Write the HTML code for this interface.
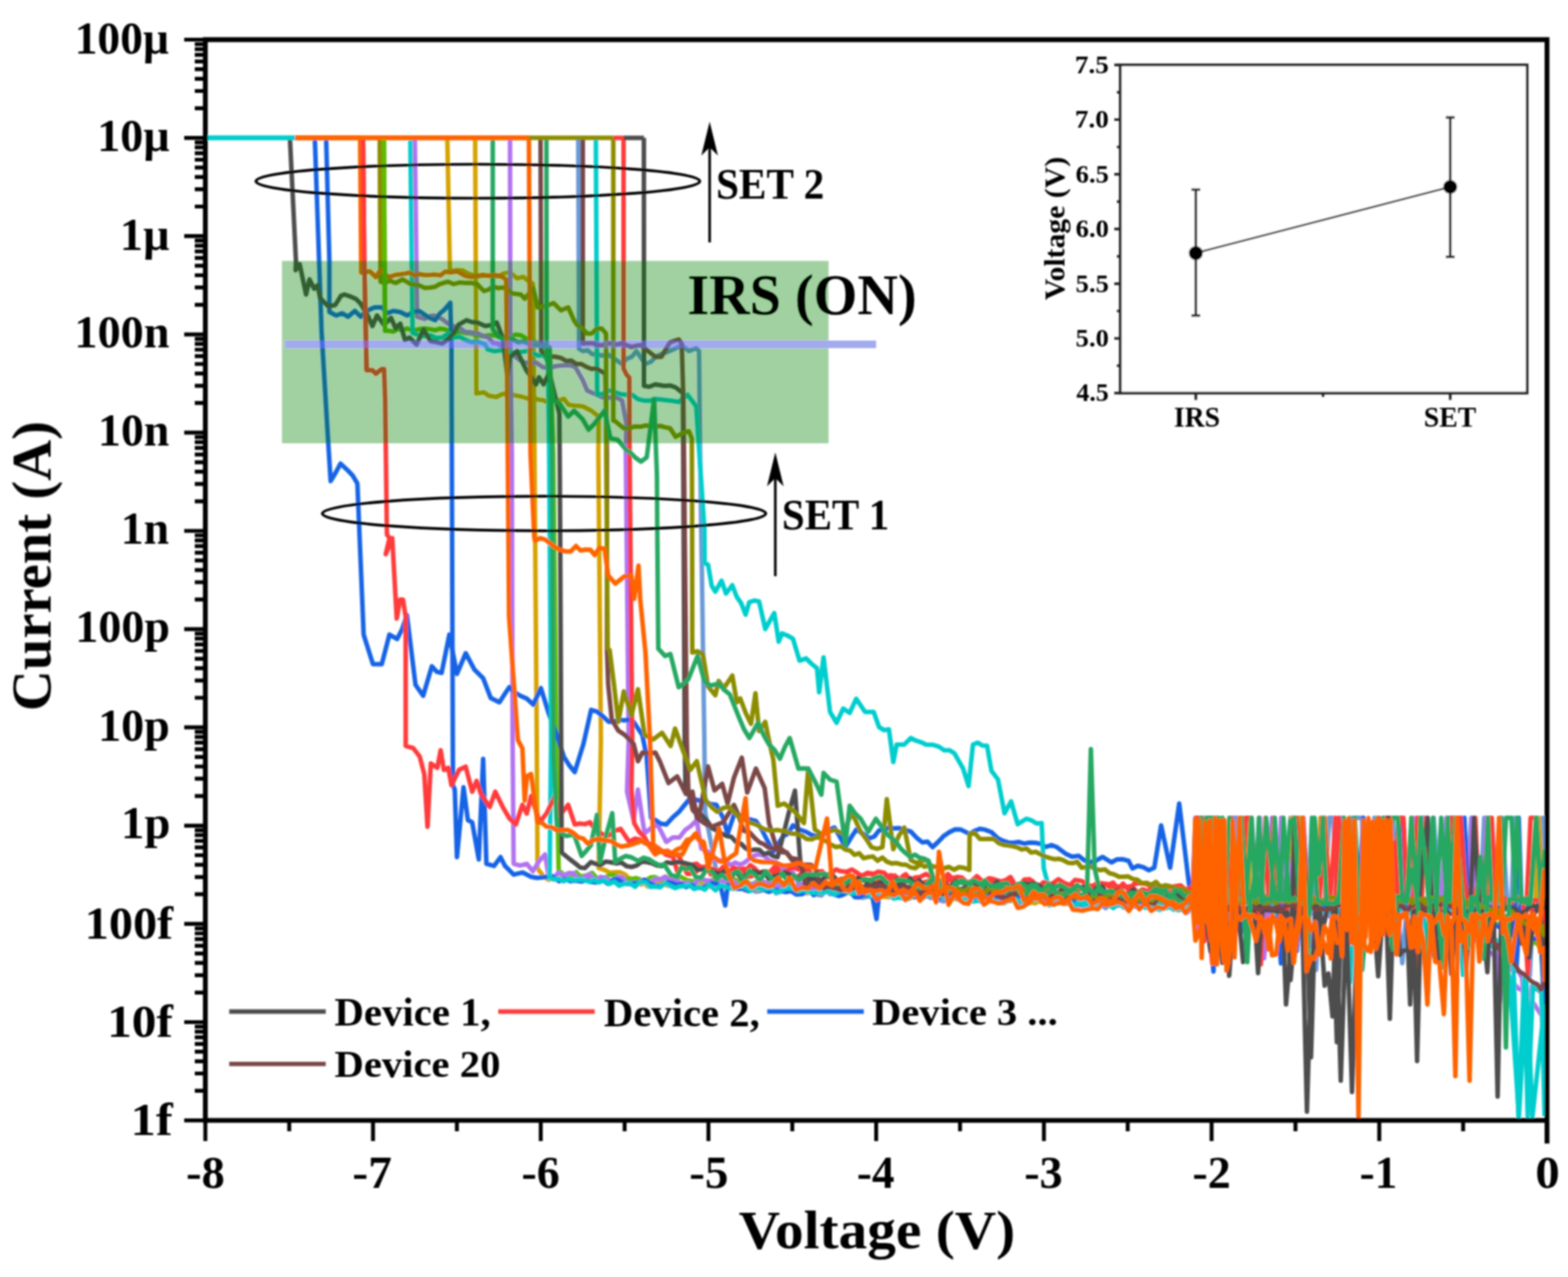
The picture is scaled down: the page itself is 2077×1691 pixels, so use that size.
<!DOCTYPE html><html><head><meta charset="utf-8"><style>
html,body{margin:0;padding:0;background:#fff;}
svg{display:block;}
text{font-family:"Liberation Serif","Times New Roman",serif;font-weight:bold;fill:#000;}
</style></head><body>
<svg width="2077" height="1691" viewBox="0 0 2077 1691">
<defs><filter id="sf" x="0" y="0" width="2077" height="1691" filterUnits="userSpaceOnUse"><feGaussianBlur stdDeviation="0.8"/></filter></defs>
<rect width="100%" height="100%" fill="#fff"/>
<g filter="url(#sf)">
<g fill="none" stroke-width="6.0" stroke-linejoin="round" stroke-linecap="butt">
<path d="M766.0 182.6 L767.0 462.0 L772.0 465.0 L778.3 463.9 L784.7 469.3 L791.0 468.7 L797.5 471.1 L804.0 468.9 L810.5 472.6 L817.2 477.5 L824.0 482.0 L830.3 475.0 L836.7 472.6 L843.0 465.0 L854.8 482.0 L861.9 479.3 L868.9 472.1 L876.0 468.7 L883.7 466.3 L891.4 463.0 L903.0 457.0 L912.6 465.0 L922.2 461.0 L926.0 465.0 L927.4 600.0 L933.0 980.0 L934.0 1075.0 L950.0 1160.0 L957.6 1172.7 L965.8 1177.0 L972.4 1173.2 L979.7 1173.1 L987.9 1172.4 L994.9 1177.8 L1001.2 1180.8 L1007.9 1179.7 L1015.1 1175.9 L1021.7 1173.5 L1027.8 1183.0 L1034.2 1181.0 L1040.1 1180.0 L1046.6 1179.6 L1053.0 1174.7 L1059.5 1176.9 L1065.4 1183.0 L1071.7 1179.6 L1079.9 1184.4 L1088.1 1185.8 L1094.0 1179.0 L1099.6 1184.1 L1107.0 1180.5 L1113.8 1184.5 L1121.4 1179.9 L1129.4 1181.5 L1136.8 1179.8 L1142.7 1188.9 L1150.4 1186.8 L1156.0 1179.0 L1162.0 1181.2 L1168.4 1183.6 L1174.0 1183.1 L1181.4 1181.8 L1189.4 1186.9 L1197.1 1183.4 L1203.9 1188.9 L1210.4 1181.0 L1218.4 1190.6 L1224.8 1182.1 L1232.9 1189.3 L1238.5 1185.2 L1244.3 1192.0 L1250.5 1193.7 L1258.2 1184.2 L1265.8 1188.2 L1273.5 1193.8 L1279.9 1185.2 L1288.2 1189.6 L1296.5 1193.1 L1304.2 1195.1 L1311.6 1191.0 L1317.3 1194.2 L1324.1 1192.2 L1332.3 1188.0 L1340.1 1187.3 L1347.7 1196.8 L1354.0 1194.0 L1362.4 1195.5 L1369.6 1191.1 L1375.2 1192.7 L1382.0 1191.1 L1388.4 1190.6 L1396.0 1197.4 L1402.2 1192.5 L1409.3 1195.3 L1417.6 1194.5 L1424.0 1201.2 L1429.9 1197.6 L1436.4 1200.9 L1443.6 1200.6 L1449.6 1199.7 L1456.9 1197.6 L1464.7 1202.4 L1470.5 1196.1 L1477.1 1195.4 L1482.8 1196.6 L1488.9 1201.9 L1495.7 1195.2 L1502.2 1199.7 L1508.8 1196.4 L1514.5 1194.8 L1523.0 1204.0 L1528.7 1203.9 L1537.1 1202.4 L1543.0 1201.8 L1549.8 1198.5 L1556.9 1196.7 L1565.2 1204.7 L1572.5 1208.5 L1580.0 1200.6 L1586.8 1198.8 L1594.6 1083.0 L1599.1 1198.5 L1605.8 1204.7 L1611.6 1206.9 L1616.2 1206.6 L1623.1 1249.8 L1630.7 1083.0 L1638.0 1083.0 L1643.3 1200.7 L1650.7 1200.2 L1658.1 1083.0 L1664.7 1205.2 L1672.5 1199.7 L1679.3 1197.9 L1685.3 1083.0 L1691.2 1206.7 L1695.9 1207.0 L1702.9 1199.4 L1709.3 1083.0 L1715.9 1083.0 L1721.5 1205.3 L1726.6 1083.0 L1732.4 1199.5 L1737.9 1083.0 L1743.3 1284.3 L1747.6 1204.1 L1754.7 1202.8 L1760.4 1083.0 L1765.7 1083.0 L1773.2 1203.4 L1777.4 1083.0 L1784.1 1274.5 L1791.6 1083.0 L1798.5 1083.0 L1804.1 1083.0 L1808.6 1205.5 L1814.7 1199.1 L1820.5 1083.0 L1827.7 1132.6 L1834.4 1153.6 L1838.9 1083.0 L1845.0 1083.0 L1851.0 1199.5 L1857.5 1275.6 L1863.2 1205.5 L1870.4 1083.0 L1875.1 1108.1 L1882.5 1083.0 L1887.6 1083.0 L1894.0 1199.4 L1899.1 1083.0 L1906.9 1201.8 L1912.3 1203.9 L1917.0 1083.0 L1924.2 1199.3 L1929.2 1083.0 L1936.1 1083.0 L1941.2 1202.5 L1948.8 1083.0 L1955.0 1200.6 L1960.0 1206.5 L1966.1 1083.0 L1971.9 1200.6 L1977.7 1199.4 L1982.3 1206.7 L1989.6 1083.0 L1996.8 1200.6 L2001.7 1203.9 L2006.7 1083.0 L2013.9 1202.2 L2020.3 1198.6 L2026.3 1292.2 L2031.1 1198.4 L2037.5 1197.8 L2043.5 1083.0 L2046.0 1290.0" stroke="#6a9ad8"/>
<path d="M592.5 182.6 L596.0 359.3 L605.7 357.7 L612.9 358.0 L620.0 362.0 L626.7 364.6 L633.3 365.9 L640.0 365.0 L646.7 364.8 L653.3 364.5 L660.0 366.0 L667.8 361.9 L675.6 360.8 L685.0 368.5 L693.0 366.6 L700.0 372.0 L706.0 376.0 L708.0 600.0 L711.0 980.0 L712.0 1150.0 L720.2 1160.9 L726.8 1165.0 L733.0 1161.1 L740.1 1164.4 L747.9 1163.6 L754.4 1160.7 L760.4 1166.1 L767.9 1165.5 L773.9 1162.7 L781.7 1164.5 L787.6 1163.6 L795.8 1161.7 L801.8 1162.6 L809.4 1168.4 L815.4 1161.8 L821.6 1163.7 L828.7 1162.4 L835.2 1163.0 L843.6 1168.8 L849.4 1171.3 L855.2 1165.8 L863.7 1170.3 L871.4 1167.1 L877.5 1169.4 L883.3 1165.3 L890.0 1163.9 L896.7 1171.8 L904.2 1169.2 L911.6 1169.2 L917.6 1170.8 L924.3 1172.5 L932.5 1169.8 L939.7 1173.3 L946.5 1168.4 L954.1 1175.2 L962.0 1173.8 L970.0 1173.9 L977.5 1172.0 L983.9 1174.1 L989.7 1172.2 L997.5 1175.5 L1004.9 1171.2 L1011.7 1173.6 L1019.1 1173.5 L1026.6 1179.0 L1032.6 1176.5 L1040.5 1174.2 L1047.4 1180.4 L1053.1 1176.3 L1059.0 1179.0 L1067.4 1176.7 L1073.2 1177.5 L1080.3 1179.3 L1087.3 1178.8 L1095.3 1178.0 L1102.0 1182.6 L1108.2 1180.2 L1114.8 1181.3 L1120.7 1183.8 L1127.3 1174.8 L1133.6 1178.5 L1139.1 1178.9 L1145.9 1182.0 L1152.5 1178.0 L1158.6 1183.1 L1167.0 1181.3 L1173.1 1184.3 L1179.8 1178.7 L1185.7 1184.6 L1193.6 1183.6 L1200.5 1183.1 L1206.7 1187.4 L1213.2 1184.5 L1221.2 1186.6 L1228.1 1181.7 L1235.3 1180.3 L1243.3 1183.0 L1251.3 1182.5 L1257.9 1182.6 L1264.7 1182.3 L1270.2 1187.9 L1276.6 1183.4 L1283.0 1186.0 L1289.8 1187.9 L1297.2 1185.5 L1305.5 1190.8 L1311.2 1190.8 L1319.4 1190.7 L1325.3 1191.5 L1332.7 1183.6 L1338.3 1193.2 L1345.7 1186.6 L1351.5 1185.7 L1357.7 1192.4 L1364.3 1186.4 L1372.5 1193.2 L1378.5 1194.4 L1385.8 1193.7 L1393.3 1195.1 L1401.2 1194.9 L1407.3 1193.8 L1414.4 1194.6 L1421.2 1196.3 L1428.3 1190.4 L1434.6 1189.4 L1441.5 1189.0 L1448.4 1190.1 L1455.4 1194.0 L1462.5 1197.9 L1468.0 1198.0 L1474.9 1195.5 L1482.4 1198.6 L1489.1 1194.7 L1497.5 1191.6 L1504.9 1197.6 L1510.4 1197.6 L1518.0 1201.1 L1524.5 1201.9 L1531.5 1197.3 L1539.7 1193.1 L1547.4 1199.4 L1553.9 1202.0 L1560.5 1198.5 L1567.6 1201.7 L1573.7 1198.7 L1580.0 1200.1 L1586.6 1200.2 L1592.7 1205.0 L1597.9 1197.6 L1603.1 1197.7 L1607.6 1198.1 L1613.9 1195.7 L1618.8 1198.9 L1625.7 1199.1 L1630.2 1202.6 L1635.8 1198.0 L1643.3 1202.9 L1651.0 1083.0 L1657.8 1198.9 L1662.5 1196.0 L1669.2 1199.5 L1675.2 1199.8 L1681.2 1204.0 L1688.5 1197.4 L1692.8 1196.1 L1699.5 1083.0 L1704.7 1202.4 L1710.6 1083.0 L1715.0 1083.0 L1721.9 1083.0 L1727.9 1195.2 L1733.7 1195.9 L1738.5 1199.7 L1743.1 1203.8 L1749.8 1201.5 L1756.2 1198.8 L1762.8 1204.3 L1769.0 1204.6 L1774.0 1195.6 L1781.0 1197.1 L1785.9 1202.5 L1790.6 1200.1 L1795.7 1202.3 L1803.4 1201.8 L1808.6 1199.3 L1814.5 1203.5 L1819.3 1204.3 L1825.3 1197.6 L1831.2 1198.2 L1836.7 1203.4 L1844.4 1201.7 L1850.5 1195.4 L1856.0 1198.7 L1862.4 1198.0 L1867.5 1198.9 L1875.2 1201.6 L1881.4 1200.1 L1888.8 1195.5 L1895.4 1197.5 L1902.3 1197.8 L1907.0 1200.9 L1912.8 1199.5 L1919.0 1198.5 L1926.0 1197.6 L1931.5 1197.2 L1937.3 1200.8 L1944.3 1196.9 L1948.8 1200.2 L1954.7 1199.5 L1960.8 1197.3 L1966.1 1202.9 L1971.8 1200.3 L1976.6 1201.1 L1981.1 1199.4 L1985.5 1204.6 L1992.4 1204.4 L1997.6 1202.4 L2003.2 1199.2 L2007.5 1199.3 L2011.7 1204.9 L2019.3 1197.5 L2024.1 1204.3 L2028.4 1201.7 L2036.1 1195.6 L2040.4 1201.9 L2045.7 1197.8 L2046.0 1420.0" stroke="#d7a200"/>
<path d="M629.4 182.6 L631.0 521.0 L641.0 519.5 L647.3 524.0 L658.0 525.7 L664.2 522.2 L670.5 521.0 L677.0 522.1 L683.5 523.9 L690.0 525.0 L700.0 528.0 L706.7 526.7 L713.3 529.3 L720.0 530.0 L724.0 532.0 L733.0 528.0 L740.0 530.3 L747.0 528.0 L753.0 536.0 L759.3 537.0 L765.7 537.4 L772.0 538.0 L783.5 544.0 L793.0 551.6 L792.6 600.0 L796.0 980.0 L793.0 1149.5 L801.8 1152.4 L808.3 1155.8 L814.8 1154.9 L821.2 1155.0 L827.7 1158.0 L836.0 1166.0 L844.0 1167.5 L851.0 1166.5 L858.0 1173.9 L865.5 1172.4 L872.0 1167.9 L878.3 1170.9 L885.8 1173.2 L891.4 1172.8 L899.5 1171.4 L905.2 1169.2 L910.7 1168.4 L919.0 1172.9 L926.4 1175.1 L934.7 1173.7 L942.0 1174.2 L949.6 1174.2 L957.1 1170.7 L964.6 1173.5 L972.4 1170.3 L978.5 1169.9 L986.3 1179.0 L993.8 1173.9 L1001.7 1178.4 L1008.9 1173.5 L1015.3 1175.4 L1021.8 1175.8 L1029.2 1181.2 L1034.9 1177.7 L1040.5 1173.5 L1048.4 1178.4 L1056.7 1177.5 L1062.2 1177.2 L1069.5 1183.0 L1077.9 1178.8 L1084.7 1175.3 L1092.1 1176.8 L1098.1 1175.1 L1103.6 1182.0 L1109.4 1185.1 L1115.2 1184.4 L1121.1 1176.1 L1128.8 1178.7 L1136.5 1178.5 L1142.1 1184.6 L1149.7 1185.8 L1157.4 1178.4 L1164.8 1185.0 L1171.7 1187.6 L1178.0 1188.2 L1185.6 1179.0 L1191.2 1185.6 L1199.1 1180.3 L1205.5 1187.0 L1211.5 1188.6 L1218.5 1180.9 L1225.1 1186.4 L1231.9 1187.7 L1237.9 1189.2 L1244.4 1187.9 L1251.8 1186.0 L1258.5 1190.0 L1266.8 1190.4 L1274.0 1185.8 L1279.7 1192.8 L1287.3 1191.7 L1293.8 1189.8 L1302.2 1192.4 L1309.6 1187.5 L1316.3 1193.6 L1323.0 1191.9 L1330.3 1194.3 L1338.2 1188.6 L1343.7 1188.6 L1350.5 1192.1 L1358.4 1195.5 L1364.0 1195.2 L1372.0 1195.9 L1379.2 1190.3 L1387.2 1196.0 L1394.8 1197.4 L1401.3 1189.4 L1408.5 1196.9 L1414.6 1196.7 L1422.9 1191.9 L1430.2 1196.6 L1437.1 1192.2 L1443.4 1198.0 L1451.3 1195.4 L1457.0 1199.1 L1464.8 1193.7 L1472.1 1200.7 L1480.2 1197.3 L1487.2 1198.3 L1493.2 1194.6 L1499.3 1200.0 L1505.9 1198.9 L1512.6 1198.7 L1518.5 1194.3 L1527.0 1198.0 L1532.8 1200.8 L1540.7 1196.4 L1548.0 1198.6 L1555.0 1195.7 L1560.6 1205.6 L1568.7 1201.0 L1575.9 1199.0 L1580.0 1200.9 L1587.5 1202.7 L1594.9 1201.4 L1602.4 1200.7 L1607.2 1204.9 L1611.8 1204.5 L1617.6 1198.2 L1625.0 1199.3 L1631.5 1199.9 L1636.0 1195.4 L1640.5 1201.9 L1645.8 1196.6 L1650.4 1083.0 L1657.7 1197.4 L1661.9 1198.0 L1666.6 1201.0 L1672.4 1201.4 L1678.6 1196.6 L1686.2 1201.9 L1694.0 1198.4 L1698.6 1200.2 L1704.3 1203.4 L1709.0 1195.0 L1715.5 1202.3 L1723.1 1202.6 L1727.5 1196.2 L1733.4 1195.7 L1740.3 1197.6 L1744.8 1198.0 L1749.1 1083.0 L1755.2 1083.0 L1761.8 1196.4 L1767.1 1197.8 L1772.7 1197.0 L1777.7 1200.6 L1785.1 1199.5 L1789.3 1201.3 L1794.9 1204.1 L1800.2 1198.0 L1806.8 1197.8 L1814.2 1204.7 L1819.8 1199.6 L1824.4 1197.1 L1831.9 1200.3 L1839.4 1204.7 L1846.2 1197.9 L1853.4 1204.8 L1857.8 1201.2 L1863.4 1200.8 L1868.9 1195.5 L1875.5 1198.8 L1882.8 1197.5 L1889.9 1195.9 L1897.2 1202.7 L1902.5 1198.4 L1907.4 1196.3 L1911.9 1195.2 L1916.6 1196.4 L1923.6 1083.0 L1929.0 1197.3 L1935.1 1198.9 L1940.7 1202.0 L1946.0 1202.1 L1951.2 1195.8 L1957.2 1196.3 L1963.8 1199.8 L1969.2 1204.9 L1975.7 1201.4 L1982.4 1200.4 L1989.3 1201.5 L1995.4 1197.1 L2001.5 1199.7 L2006.3 1196.3 L2013.7 1204.1 L2021.1 1197.7 L2028.8 1195.9 L2034.0 1198.0 L2038.5 1083.0 L2044.4 1200.1 L2046.0 1250.0" stroke="#d7a200"/>
<path d="M508.5 182.6 L510.0 438.0 L514.8 438.0 L521.0 439.1 L527.1 435.7 L533.3 437.2 L539.5 435.0 L547.2 437.8 L555.0 436.0 L562.5 435.1 L570.0 436.0 L576.3 437.3 L582.7 435.2 L589.0 436.0 L601.0 441.0 L608.8 439.3 L616.5 441.0 L624.2 441.7 L632.0 444.0 L639.5 445.3 L647.0 444.0 L655.0 443.7 L663.0 447.0 L669.8 447.0 L676.5 444.8 L683.2 443.1 L690.0 444.0 L700.0 450.0 L707.5 452.2 L715.0 455.0 L721.5 456.9 L728.0 460.0 L733.0 600.0 L737.0 980.0 L740.0 1153.0 L746.7 1157.7 L755.1 1161.3 L763.2 1155.0 L768.8 1160.8 L777.0 1159.2 L784.2 1155.8 L790.9 1163.5 L798.9 1163.3 L807.3 1158.8 L813.1 1158.3 L820.2 1162.9 L828.5 1163.6 L836.0 1164.2 L842.8 1162.8 L848.4 1164.9 L854.6 1166.3 L862.1 1161.7 L868.0 1161.6 L875.4 1165.5 L881.2 1160.7 L888.3 1165.1 L894.9 1162.6 L902.2 1161.2 L908.7 1165.1 L917.0 1166.9 L925.2 1165.9 L931.4 1164.4 L939.8 1168.4 L946.2 1163.3 L953.2 1168.8 L959.9 1165.8 L967.4 1171.4 L973.6 1164.6 L980.1 1168.0 L987.7 1166.5 L995.6 1171.2 L1002.6 1167.3 L1011.0 1168.5 L1019.0 1168.2 L1025.1 1172.7 L1031.5 1174.5 L1038.5 1168.7 L1044.7 1170.8 L1052.2 1175.4 L1058.1 1171.3 L1064.2 1176.2 L1070.2 1169.1 L1075.9 1172.1 L1084.0 1176.4 L1091.7 1177.6 L1100.0 1172.6 L1106.1 1177.8 L1113.8 1170.9 L1121.3 1174.0 L1127.9 1173.9 L1134.0 1171.6 L1140.3 1174.6 L1148.7 1173.2 L1157.1 1174.2 L1163.6 1179.4 L1171.6 1176.7 L1177.2 1177.3 L1183.9 1181.1 L1189.9 1177.0 L1198.1 1174.7 L1204.9 1181.2 L1212.7 1175.4 L1218.3 1175.8 L1226.5 1177.7 L1234.3 1183.2 L1240.8 1178.5 L1249.2 1181.6 L1255.4 1182.7 L1261.9 1179.5 L1267.4 1183.6 L1275.7 1183.0 L1284.0 1178.5 L1290.2 1182.4 L1298.6 1186.6 L1305.2 1181.2 L1312.0 1183.5 L1320.3 1181.4 L1328.2 1186.2 L1336.2 1186.8 L1343.5 1183.6 L1349.9 1184.1 L1357.8 1182.2 L1363.9 1187.9 L1370.1 1182.7 L1375.7 1186.8 L1382.2 1190.5 L1390.4 1191.0 L1396.6 1184.0 L1402.4 1187.6 L1410.1 1187.5 L1416.3 1187.6 L1423.6 1190.0 L1431.4 1191.7 L1438.9 1186.2 L1446.9 1188.0 L1454.1 1188.9 L1461.8 1187.9 L1468.0 1188.5 L1474.0 1193.9 L1481.2 1189.8 L1487.9 1195.4 L1495.0 1189.6 L1502.9 1193.4 L1511.4 1189.3 L1518.3 1195.4 L1526.3 1196.5 L1531.9 1191.8 L1537.8 1191.2 L1546.2 1194.7 L1554.5 1193.4 L1562.6 1194.4 L1568.9 1197.3 L1577.2 1192.3 L1580.0 1196.6 L1585.5 1197.2 L1591.3 1199.6 L1596.4 1193.1 L1601.7 1194.4 L1608.6 1200.9 L1616.2 1201.9 L1623.4 1193.3 L1629.2 1196.0 L1634.2 1195.6 L1641.2 1197.2 L1647.8 1195.9 L1652.1 1201.3 L1659.2 1195.3 L1663.9 1197.6 L1668.4 1200.3 L1672.6 1197.9 L1680.1 1201.0 L1685.9 1198.0 L1690.2 1195.3 L1695.9 1198.4 L1702.5 1196.2 L1708.5 1200.8 L1715.1 1195.3 L1719.6 1194.2 L1723.9 1202.2 L1728.5 1202.4 L1735.4 1199.4 L1740.5 1193.1 L1746.6 1194.0 L1751.4 1193.4 L1757.2 1197.6 L1761.6 1195.0 L1768.2 1198.0 L1772.8 1197.2 L1777.3 1197.3 L1784.6 1201.8 L1791.9 1195.2 L1796.8 1201.3 L1804.1 1197.3 L1808.4 1195.9 L1813.0 1202.9 L1818.3 1198.3 L1824.2 1198.0 L1830.2 1199.3 L1836.8 1196.1 L1842.6 1200.3 L1847.0 1194.7 L1853.8 1196.9 L1858.8 1200.2 L1865.3 1197.0 L1871.7 1202.0 L1876.0 1194.5 L1883.6 1195.2 L1889.6 1201.5 L1896.2 1200.4 L1903.7 1199.2 L1910.8 1195.2 L1917.1 1200.1 L1924.0 1194.1 L1928.3 1200.3 L1936.1 1205.6 L1940.8 1204.5 L1947.7 1211.4 L1952.8 1208.7 L1957.6 1207.6 L1961.9 1215.8 L1969.0 1216.7 L1975.9 1224.6 L1981.5 1222.6 L1986.4 1225.0 L1990.7 1224.1 L1998.3 1235.0 L2004.7 1237.7 L2010.8 1243.4 L2016.3 1240.3 L2024.0 1240.5 L2028.3 1250.6 L2034.1 1246.5 L2041.8 1257.7 L2046.0 1350.0" stroke="#5fbb00"/>
<path d="M549.5 182.6 L552.5 419.4 L562.6 422.4 L568.8 418.8 L575.0 417.8 L585.7 422.4 L593.4 428.6 L601.7 432.2 L610.0 435.0 L616.0 439.4 L622.0 439.8 L628.0 440.9 L634.0 442.0 L640.0 445.0 L646.7 446.5 L653.3 454.2 L660.0 455.0 L667.5 463.3 L675.0 469.0 L681.7 471.4 L688.3 476.8 L695.0 480.0 L702.5 481.0 L710.0 480.0 L718.8 486.0 L727.6 488.0 L735.3 484.9 L743.0 484.0 L749.3 483.7 L755.7 483.8 L762.0 486.0 L772.0 503.4 L777.7 517.0 L784.4 520.3 L791.0 522.7 L797.5 526.1 L804.0 526.4 L810.5 526.5 L817.2 526.6 L824.0 530.4 L829.7 561.0 L829.0 600.0 L832.8 980.0 L830.6 1048.4 L839.3 1086.0 L845.0 1045.5 L853.8 1103.3 L862.4 1096.7 L871.0 1091.8 L882.6 1114.9 L891.3 1109.0 L900.0 1109.0 L907.7 1099.0 L915.3 1093.6 L923.0 1086.0 L928.9 1123.5 L935.9 1126.6 L943.0 1132.9 L950.0 1140.0 L956.0 1139.2 L962.0 1141.5 L968.0 1145.5 L974.0 1142.1 L980.0 1145.0 L986.1 1142.4 L992.2 1137.5 L998.4 1133.3 L1004.5 1131.4 L1012.3 1133.4 L1020.2 1140.2 L1028.0 1141.6 L1035.3 1148.5 L1042.7 1152.2 L1050.0 1155.0 L1057.9 1169.6 L1064.4 1171.6 L1070.0 1180.1 L1077.9 1178.0 L1083.4 1180.1 L1091.1 1175.1 L1098.8 1175.3 L1105.0 1170.7 L1111.2 1170.0 L1117.7 1180.3 L1125.3 1182.0 L1132.9 1174.2 L1140.1 1176.9 L1148.0 1178.5 L1154.3 1180.4 L1162.7 1174.9 L1170.8 1172.4 L1177.1 1175.8 L1184.8 1186.0 L1192.6 1177.7 L1200.7 1178.1 L1206.9 1186.5 L1214.3 1183.8 L1221.8 1188.2 L1228.7 1186.5 L1236.3 1187.1 L1243.1 1185.6 L1250.3 1180.1 L1256.5 1184.8 L1262.2 1189.0 L1268.1 1176.9 L1273.9 1189.8 L1280.5 1179.1 L1286.1 1178.0 L1293.6 1186.6 L1301.2 1188.4 L1306.9 1186.6 L1313.5 1190.1 L1321.5 1191.4 L1327.2 1191.4 L1335.4 1192.8 L1341.2 1182.7 L1347.1 1180.6 L1355.1 1191.8 L1362.5 1192.4 L1369.9 1185.2 L1375.7 1182.8 L1383.5 1184.6 L1390.0 1188.0 L1395.5 1185.9 L1401.9 1192.6 L1408.5 1187.4 L1416.9 1190.3 L1424.9 1192.3 L1430.5 1189.7 L1437.3 1195.0 L1443.9 1194.3 L1451.0 1187.8 L1459.1 1186.4 L1467.0 1187.9 L1472.5 1188.6 L1480.3 1199.8 L1485.8 1193.2 L1492.8 1197.8 L1498.8 1193.9 L1505.4 1198.9 L1511.7 1200.7 L1518.0 1190.8 L1525.6 1195.1 L1531.4 1197.3 L1537.2 1199.7 L1544.8 1200.0 L1552.2 1194.3 L1558.9 1195.2 L1567.0 1191.2 L1575.2 1190.7 L1580.0 1194.3 L1584.9 1206.3 L1589.8 1207.9 L1595.7 1205.6 L1600.8 1206.2 L1607.4 1211.7 L1615.0 1205.4 L1621.9 1205.0 L1628.5 1211.4 L1633.5 1203.1 L1641.2 1210.3 L1647.3 1208.3 L1654.5 1206.0 L1659.1 1212.2 L1663.9 1209.3 L1668.6 1083.0 L1674.4 1269.0 L1679.0 1208.9 L1685.1 1083.0 L1692.3 1203.9 L1697.0 1083.0 L1703.5 1205.0 L1711.0 1210.9 L1718.1 1208.3 L1725.9 1083.0 L1733.3 1211.2 L1738.1 1253.3 L1743.8 1204.4 L1749.2 1206.0 L1753.8 1208.4 L1758.1 1204.5 L1762.9 1209.5 L1768.6 1208.6 L1774.5 1083.0 L1781.4 1207.0 L1787.8 1207.2 L1795.2 1204.5 L1800.0 1212.6 L1806.8 1203.6 L1814.0 1210.6 L1820.9 1208.2 L1828.4 1203.8 L1835.6 1211.0 L1840.3 1208.9 L1844.7 1209.0 L1852.3 1207.0 L1858.0 1210.4 L1865.8 1159.2 L1870.1 1205.7 L1875.1 1243.2 L1881.7 1204.1 L1889.0 1205.6 L1896.2 1208.3 L1900.7 1211.7 L1908.1 1204.6 L1915.8 1083.0 L1921.9 1208.3 L1929.4 1211.6 L1936.0 1209.2 L1942.6 1217.5 L1950.3 1083.0 L1957.2 1236.0 L1962.5 1236.9 L1969.0 1083.0 L1975.8 1248.9 L1981.5 1259.6 L1986.7 1327.1 L1991.7 1265.3 L1998.1 1276.2 L2004.5 1287.4 L2009.7 1282.9 L2016.3 1295.0 L2021.3 1398.4 L2029.1 1306.2 L2036.3 1309.6 L2042.4 1316.3 L2046.0 1270.0" stroke="#b273f0"/>
<path d="M675.6 182.6 L676.0 460.0 L678.0 600.0 L679.0 980.0 L680.4 1143.8 L689.1 1146.1 L697.8 1143.8 L705.8 1153.7 L713.9 1140.5 L722.0 1131.4 L726.0 1155.7 L734.1 1162.1 L739.7 1155.3 L746.7 1160.1 L753.1 1155.9 L759.8 1156.3 L767.1 1165.4 L773.0 1162.2 L780.7 1157.6 L788.7 1167.2 L795.4 1161.3 L803.4 1163.0 L810.1 1168.2 L817.9 1161.4 L824.1 1161.6 L830.9 1169.7 L838.9 1169.2 L846.8 1168.8 L852.5 1165.1 L860.8 1170.4 L867.1 1164.6 L874.5 1164.2 L881.6 1161.0 L888.4 1166.5 L893.9 1162.4 L902.3 1170.4 L910.7 1169.1 L918.6 1172.4 L926.7 1162.6 L934.2 1165.7 L941.7 1166.2 L948.8 1174.3 L956.2 1166.5 L963.3 1169.1 L971.6 1167.7 L978.0 1172.3 L983.9 1171.9 L992.3 1171.3 L998.6 1171.0 L1005.7 1167.5 L1011.5 1167.6 L1017.9 1171.2 L1024.3 1169.5 L1030.0 1173.4 L1038.1 1174.5 L1045.3 1175.3 L1051.4 1176.3 L1058.3 1174.7 L1065.6 1174.1 L1072.0 1171.6 L1078.2 1175.2 L1084.8 1176.3 L1090.4 1173.8 L1098.5 1172.8 L1105.6 1176.2 L1112.0 1182.4 L1118.4 1180.1 L1124.3 1171.9 L1132.5 1176.7 L1138.1 1176.4 L1145.0 1180.8 L1150.8 1175.0 L1159.2 1181.5 L1165.1 1177.0 L1171.7 1181.3 L1179.0 1183.8 L1187.0 1180.1 L1194.7 1183.2 L1202.5 1180.3 L1210.4 1183.5 L1218.6 1176.9 L1226.7 1175.8 L1234.5 1183.1 L1241.5 1187.9 L1248.7 1181.7 L1256.6 1187.5 L1263.9 1181.9 L1270.7 1183.2 L1278.4 1181.5 L1285.1 1185.0 L1291.7 1182.5 L1299.6 1189.2 L1306.6 1184.6 L1312.7 1183.2 L1318.6 1186.7 L1325.8 1181.2 L1334.1 1184.4 L1342.1 1191.0 L1350.5 1183.7 L1357.3 1192.5 L1362.8 1182.4 L1370.0 1188.1 L1378.3 1191.8 L1385.4 1194.8 L1392.4 1189.4 L1400.0 1188.2 L1406.6 1190.9 L1413.1 1195.5 L1420.6 1190.7 L1426.4 1189.2 L1433.1 1191.7 L1440.4 1195.9 L1448.8 1191.5 L1455.6 1193.5 L1464.1 1190.5 L1471.2 1196.5 L1477.2 1190.8 L1485.6 1197.3 L1492.6 1189.0 L1500.8 1196.3 L1508.8 1200.3 L1517.0 1193.8 L1522.9 1192.5 L1530.0 1195.4 L1536.0 1191.8 L1543.4 1197.2 L1550.0 1202.2 L1557.4 1191.1 L1564.1 1200.3 L1570.5 1199.5 L1576.1 1195.1 L1580.0 1198.6 L1587.6 1236.8 L1595.4 1206.2 L1602.0 1213.9 L1607.0 1208.2 L1613.4 1211.9 L1620.9 1205.5 L1628.3 1208.1 L1633.2 1210.8 L1640.7 1214.6 L1647.0 1211.1 L1652.1 1208.1 L1659.1 1211.5 L1663.8 1211.7 L1668.7 1083.0 L1673.0 1210.1 L1679.1 1211.6 L1686.6 1208.7 L1692.9 1211.0 L1699.0 1211.7 L1705.1 1117.5 L1710.9 1214.3 L1718.5 1209.0 L1723.1 1206.7 L1729.2 1208.3 L1734.7 1205.4 L1740.9 1211.5 L1745.8 1205.5 L1751.5 1214.2 L1757.3 1210.0 L1763.4 1214.9 L1770.3 1212.3 L1776.8 1212.8 L1783.9 1214.4 L1788.2 1211.3 L1793.6 1211.9 L1799.4 1205.4 L1807.1 1206.2 L1812.1 1213.7 L1816.9 1206.0 L1822.8 1208.4 L1829.6 1213.3 L1834.0 1213.5 L1838.3 1209.9 L1843.9 1212.2 L1849.8 1207.3 L1854.9 1083.0 L1859.7 1211.5 L1864.1 1211.0 L1868.4 1205.3 L1875.4 1083.0 L1883.1 1207.3 L1889.3 1260.7 L1896.6 1205.1 L1902.1 1206.8 L1909.2 1210.5 L1914.7 1210.1 L1919.6 1206.6 L1926.8 1212.0 L1934.0 1211.7 L1939.6 1224.2 L1945.2 1225.2 L1950.0 1083.0 L1955.1 1244.8 L1959.8 1249.4 L1966.2 1256.1 L1970.4 1260.4 L1977.5 1263.0 L1982.0 1272.4 L1989.6 1280.6 L1996.0 1287.5 L2003.7 1300.7 L2011.1 1308.9 L2016.5 1311.2 L2020.9 1317.1 L2025.2 1320.3 L2031.0 1328.0 L2036.9 1336.8 L2044.0 1347.3 L2046.0 1380.0" stroke="#b273f0"/>
<path d="M417.0 182.6 L426.0 440.0 L434.4 580.0 L438.0 637.0 L444.5 626.1 L451.0 614.0 L460.4 622.6 L466.9 629.3 L473.4 640.3 L481.7 840.0 L482.5 843.0 L494.0 879.4 L505.7 879.4 L515.8 840.4 L526.0 846.2 L532.5 833.6 L539.0 814.4 L550.4 906.9 L560.5 921.3 L572.0 882.3 L578.5 889.6 L585.0 891.0 L595.2 840.4 L605.3 892.4 L616.9 865.0 L628.4 886.7 L640.0 898.2 L650.0 924.2 L661.6 930.0 L668.2 919.7 L674.7 909.8 L681.9 916.7 L689.0 921.3 L697.7 925.1 L706.4 932.9 L716.5 911.2 L726.7 944.4 L733.4 961.7 L740.2 981.3 L746.9 1002.0 L754.1 1013.5 L761.3 1022.4 L772.9 984.9 L783.0 940.1 L791.0 942.4 L798.9 948.8 L806.1 955.7 L813.3 956.0 L819.8 953.0 L826.3 953.9 L832.8 953.1 L839.3 956.0 L850.9 973.3 L856.6 1002.2 L862.4 1083.0 L868.2 1086.0 L875.4 1090.8 L882.6 1091.8 L891.3 1082.2 L900.0 1074.4 L907.2 1065.5 L914.4 1057.0 L926.0 1060.0 L933.7 1060.7 L941.3 1064.8 L949.0 1065.8 L957.8 1083.0 L963.8 1104.4 L972.4 1078.4 L981.1 1080.6 L989.8 1084.2 L1001.3 1087.1 L1009.0 1098.5 L1016.7 1113.5 L1024.4 1127.5 L1030.9 1117.5 L1037.4 1107.5 L1043.9 1103.8 L1050.4 1092.9 L1059.1 1098.5 L1067.8 1101.5 L1075.0 1105.6 L1082.2 1107.3 L1089.9 1106.1 L1097.6 1098.9 L1105.3 1095.8 L1112.5 1108.0 L1119.8 1121.8 L1127.0 1109.7 L1134.2 1098.6 L1142.8 1103.7 L1151.5 1110.2 L1158.0 1107.8 L1164.5 1099.5 L1171.0 1099.1 L1177.5 1095.8 L1184.3 1097.0 L1191.0 1096.6 L1197.8 1098.6 L1206.4 1101.1 L1215.1 1110.2 L1221.8 1115.5 L1228.6 1114.5 L1235.3 1121.8 L1242.5 1115.0 L1249.8 1107.3 L1257.5 1102.0 L1265.2 1098.2 L1272.9 1098.6 L1284.4 1104.4 L1291.1 1100.2 L1297.9 1097.5 L1304.6 1098.6 L1313.3 1102.0 L1322.0 1110.2 L1328.7 1113.4 L1335.5 1115.7 L1342.2 1116.0 L1349.4 1115.0 L1356.7 1117.1 L1363.9 1115.8 L1371.1 1116.0 L1378.3 1117.4 L1385.5 1121.5 L1392.8 1119.0 L1400.0 1121.8 L1411.5 1130.4 L1420.2 1134.4 L1428.9 1133.3 L1436.1 1139.0 L1443.3 1142.0 L1451.9 1139.6 L1460.6 1134.7 L1472.2 1142.0 L1479.8 1137.9 L1487.4 1137.8 L1495.0 1140.0 L1500.0 1150.0 L1507.2 1146.5 L1514.5 1148.4 L1521.8 1152.4 L1529.0 1149.0 L1538.0 1093.0 L1550.0 1149.0 L1562.0 1064.0 L1573.0 1155.0 L1578.9 1201.7 L1583.6 1083.0 L1588.8 1201.9 L1595.2 1201.6 L1599.9 1196.6 L1607.4 1286.4 L1611.8 1198.4 L1617.5 1195.2 L1621.9 1200.1 L1626.4 1204.5 L1631.0 1196.4 L1636.4 1196.6 L1643.1 1237.8 L1650.2 1199.2 L1656.6 1198.8 L1660.9 1204.7 L1668.6 1198.6 L1674.1 1201.7 L1678.7 1198.6 L1684.7 1200.0 L1689.0 1199.3 L1695.1 1199.3 L1700.7 1196.0 L1706.9 1202.0 L1711.2 1198.4 L1717.7 1259.4 L1722.7 1199.8 L1730.3 1204.6 L1735.1 1198.6 L1740.0 1204.1 L1744.2 1202.7 L1749.6 1195.1 L1754.0 1204.8 L1761.8 1195.2 L1767.1 1203.3 L1773.6 1200.3 L1779.6 1197.6 L1787.2 1196.6 L1792.4 1197.8 L1800.0 1202.0 L1806.8 1197.9 L1811.9 1201.9 L1816.6 1199.2 L1821.6 1204.8 L1827.8 1204.2 L1835.5 1199.2 L1841.8 1202.9 L1848.1 1198.7 L1855.0 1195.2 L1861.7 1203.0 L1869.1 1200.3 L1876.2 1196.0 L1881.7 1204.3 L1888.3 1201.2 L1893.0 1202.0 L1898.6 1199.1 L1904.0 1196.4 L1908.5 1202.0 L1915.4 1204.3 L1920.9 1083.0 L1926.7 1201.7 L1932.2 1198.3 L1939.8 1083.0 L1945.0 1199.3 L1950.0 1200.0 L1956.7 1199.6 L1963.1 1197.5 L1968.9 1203.3 L1973.9 1202.6 L1979.6 1201.6 L1987.3 1201.8 L1992.7 1198.2 L1998.7 1198.1 L2003.4 1200.4 L2008.5 1285.3 L2013.7 1201.0 L2019.3 1204.0 L2024.7 1201.4 L2031.9 1202.8 L2037.6 1197.6 L2043.3 1198.8 L2046.0 1300.0" stroke="#1463e6"/>
<path d="M432.0 182.6 L436.3 345.0 L436.3 413.0 L445.5 417.8 L453.2 414.7 L461.0 419.4 L470.0 411.7 L477.9 419.4 L485.6 411.7 L496.3 407.0 L505.6 407.0 L513.3 414.7 L521.0 411.7 L530.2 413.2 L539.5 417.8 L547.2 413.0 L555.0 411.7 L564.0 417.8 L570.2 421.5 L576.5 424.0 L582.6 415.3 L588.8 410.0 L596.5 400.9 L598.0 459.0 L600.0 1040.0 L602.4 1045.5 L605.3 1135.0 L614.0 1042.6 L619.8 1086.0 L625.5 1088.9 L634.2 1138.0 L640.0 1005.0 L644.3 1143.8 L654.4 1146.7 L663.0 1135.0 L668.9 1146.7 L680.4 1158.2 L692.0 1155.3 L703.5 1161.0 L711.2 1162.5 L719.0 1161.8 L726.7 1161.0 L733.1 1161.1 L740.5 1167.0 L748.5 1164.0 L755.9 1166.9 L761.7 1166.1 L769.9 1167.4 L777.7 1165.3 L783.7 1168.1 L790.2 1168.5 L798.6 1165.6 L805.3 1170.3 L813.0 1164.4 L818.9 1164.6 L827.1 1170.2 L833.0 1170.6 L841.5 1169.6 L848.0 1169.1 L853.9 1165.0 L862.3 1170.5 L869.4 1173.1 L876.2 1172.9 L884.2 1168.0 L890.5 1168.9 L896.7 1171.5 L903.0 1170.5 L908.8 1174.7 L915.4 1171.4 L922.7 1175.3 L929.4 1175.7 L936.4 1172.9 L943.5 1169.1 L950.3 1170.7 L955.0 1175.9 L960.7 1199.0 L964.0 1172.0 L970.0 1175.9 L977.7 1177.1 L984.2 1177.0 L991.3 1180.0 L997.2 1178.0 L1003.4 1175.4 L1011.2 1178.1 L1018.4 1180.9 L1026.6 1178.1 L1034.0 1179.1 L1041.0 1181.3 L1047.9 1180.0 L1054.8 1184.4 L1062.4 1184.1 L1070.7 1178.3 L1077.9 1185.4 L1085.9 1177.7 L1091.8 1181.1 L1097.5 1179.3 L1103.2 1183.8 L1111.1 1186.5 L1117.0 1184.9 L1124.5 1179.5 L1132.7 1188.1 L1138.8 1188.3 L1145.5 1183.9 L1154.0 1187.8 L1155.0 1183.8 L1161.0 1217.0 L1165.0 1180.0 L1172.0 1179.6 L1178.1 1179.7 L1185.8 1177.1 L1193.0 1181.6 L1198.5 1180.7 L1205.9 1182.9 L1211.6 1187.9 L1219.4 1188.1 L1225.3 1181.3 L1230.9 1186.7 L1237.2 1180.5 L1244.0 1188.6 L1251.9 1182.4 L1257.9 1189.3 L1265.1 1187.4 L1270.8 1181.3 L1278.4 1185.3 L1284.1 1190.7 L1291.5 1189.6 L1297.3 1190.4 L1303.0 1190.8 L1309.8 1185.8 L1317.0 1192.0 L1323.3 1184.3 L1330.4 1185.8 L1336.2 1185.2 L1341.9 1185.9 L1348.3 1187.2 L1356.1 1187.4 L1363.1 1186.6 L1369.6 1185.3 L1375.9 1185.6 L1383.6 1191.3 L1389.6 1190.8 L1397.9 1187.5 L1405.9 1191.1 L1412.9 1195.4 L1419.6 1192.4 L1427.1 1197.5 L1433.7 1196.3 L1441.3 1194.7 L1448.0 1192.1 L1453.7 1190.2 L1459.4 1196.6 L1465.6 1191.1 L1471.4 1198.1 L1479.5 1196.8 L1485.8 1192.8 L1492.2 1195.2 L1498.2 1195.4 L1504.5 1200.8 L1512.9 1197.1 L1519.1 1201.5 L1525.6 1195.7 L1531.1 1196.2 L1538.0 1197.7 L1544.1 1198.0 L1549.6 1195.9 L1555.4 1197.5 L1561.0 1194.0 L1567.4 1196.4 L1574.7 1199.7 L1580.0 1201.2 L1585.1 1203.8 L1592.4 1199.3 L1597.1 1204.3 L1601.8 1199.1 L1607.0 1205.4 L1613.4 1083.0 L1618.2 1205.1 L1625.3 1204.4 L1632.9 1199.6 L1640.1 1204.6 L1646.4 1200.6 L1652.1 1198.2 L1659.3 1206.9 L1666.0 1204.5 L1670.6 1201.4 L1675.5 1202.2 L1680.6 1203.1 L1686.2 1201.9 L1691.3 1198.9 L1696.8 1275.8 L1704.4 1204.2 L1712.0 1237.6 L1719.1 1203.4 L1723.9 1205.7 L1731.2 1199.0 L1738.5 1204.2 L1743.2 1203.0 L1750.0 1203.2 L1756.3 1200.6 L1763.1 1200.0 L1767.9 1198.1 L1772.9 1275.3 L1779.1 1197.4 L1784.9 1197.9 L1789.1 1198.2 L1794.4 1203.0 L1798.9 1200.7 L1806.1 1083.0 L1812.1 1202.2 L1818.0 1200.0 L1822.3 1206.1 L1829.2 1203.8 L1836.4 1202.9 L1841.9 1199.9 L1846.8 1197.4 L1852.5 1204.6 L1858.8 1083.0 L1863.7 1202.5 L1869.1 1201.3 L1873.8 1198.1 L1881.0 1200.0 L1886.6 1236.6 L1892.1 1205.8 L1899.8 1267.1 L1904.5 1200.2 L1911.9 1198.3 L1916.1 1205.7 L1920.9 1200.7 L1926.3 1199.1 L1933.1 1207.6 L1939.2 1205.1 L1945.4 1211.6 L1952.9 1207.5 L1959.0 1213.9 L1964.3 1213.7 L1968.8 1244.8 L1975.6 1222.4 L1982.9 1226.3 L1988.6 1228.8 L1995.4 1230.8 L2000.0 1235.0 L2005.9 1235.2 L2011.7 1083.0 L2016.9 1241.1 L2021.9 1242.3 L2027.6 1243.7 L2033.6 1243.0 L2041.0 1243.4 L2046.0 1330.0" stroke="#1463e6"/>
<path d="M543.5 182.6 L546.5 441.0 L555.0 444.0 L562.5 445.1 L570.0 444.0 L577.9 447.5 L585.7 447.0 L595.0 441.0 L601.0 447.0 L608.8 446.1 L616.5 450.0 L624.2 453.2 L632.0 452.0 L642.7 456.0 L645.8 462.5 L654.4 464.9 L663.0 464.0 L669.8 462.3 L676.5 466.5 L683.2 467.0 L690.0 466.0 L697.5 464.9 L705.0 467.0 L712.5 470.9 L720.0 470.0 L726.0 478.0 L727.5 600.0 L730.0 980.0 L728.0 1163.0 L734.2 1164.5 L740.1 1163.4 L746.3 1166.9 L753.8 1164.0 L759.3 1165.3 L766.9 1164.5 L773.3 1164.9 L781.2 1168.0 L786.9 1164.7 L793.6 1168.6 L801.0 1165.3 L807.0 1170.4 L813.7 1167.4 L820.1 1173.0 L826.6 1170.2 L833.1 1169.3 L841.2 1174.3 L847.8 1168.2 L855.5 1168.6 L861.0 1174.5 L867.8 1174.1 L874.5 1174.9 L881.4 1169.5 L886.9 1172.8 L894.4 1176.0 L900.1 1174.0 L906.7 1173.3 L912.7 1171.8 L919.7 1177.3 L925.6 1174.1 L933.5 1178.2 L939.6 1171.8 L947.9 1179.0 L954.8 1171.9 L963.1 1174.9 L971.3 1177.2 L979.3 1173.9 L987.2 1174.7 L993.9 1180.0 L1001.9 1175.0 L1008.0 1177.1 L1015.1 1177.2 L1020.9 1176.4 L1028.6 1182.0 L1034.2 1179.5 L1042.0 1175.7 L1050.0 1176.7 L1057.3 1180.5 L1064.7 1178.9 L1071.5 1181.4 L1078.3 1182.3 L1085.1 1180.8 L1090.7 1182.5 L1097.6 1179.8 L1105.4 1184.5 L1112.3 1180.0 L1119.2 1179.7 L1125.1 1182.6 L1130.9 1182.9 L1137.9 1180.0 L1145.3 1180.7 L1153.0 1186.6 L1160.1 1181.1 L1167.1 1184.0 L1175.4 1182.5 L1183.5 1189.7 L1191.2 1188.6 L1197.3 1190.2 L1204.2 1190.3 L1212.5 1184.4 L1220.4 1190.9 L1226.0 1186.5 L1233.8 1185.3 L1242.0 1186.6 L1250.0 1185.9 L1257.0 1192.4 L1263.1 1187.4 L1270.1 1188.2 L1275.7 1187.4 L1281.7 1193.7 L1289.2 1193.7 L1295.2 1193.1 L1301.1 1191.3 L1308.5 1190.3 L1316.6 1192.2 L1323.9 1195.1 L1329.7 1196.3 L1337.1 1191.8 L1345.0 1191.1 L1353.4 1194.0 L1360.0 1195.8 L1366.8 1191.4 L1374.6 1190.7 L1382.5 1192.7 L1389.9 1198.9 L1397.2 1196.7 L1403.6 1191.7 L1409.2 1193.1 L1416.6 1195.7 L1423.6 1199.7 L1429.5 1194.6 L1437.0 1193.3 L1442.5 1196.3 L1448.3 1196.5 L1454.5 1198.6 L1461.7 1195.9 L1469.1 1198.4 L1475.0 1202.4 L1481.3 1196.4 L1487.0 1200.5 L1495.2 1202.0 L1501.9 1198.2 L1507.4 1201.5 L1514.6 1199.5 L1522.0 1200.5 L1530.3 1203.2 L1536.6 1204.9 L1542.2 1202.2 L1548.9 1200.1 L1554.6 1204.7 L1560.1 1203.1 L1568.5 1200.2 L1574.6 1204.2 L1580.0 1204.7 L1586.1 1210.6 L1591.3 1208.0 L1597.9 1201.3 L1603.5 1203.5 L1609.5 1209.5 L1617.1 1211.0 L1621.5 1209.8 L1626.3 1206.6 L1633.9 1206.4 L1641.3 1204.1 L1645.8 1205.7 L1653.6 1209.1 L1660.7 1201.2 L1666.2 1208.5 L1671.7 1204.7 L1678.7 1203.4 L1684.9 1206.3 L1690.4 1208.9 L1695.3 1206.6 L1701.5 1207.6 L1709.0 1204.3 L1716.4 1203.7 L1720.7 1204.5 L1726.6 1207.3 L1733.4 1201.8 L1741.1 1201.2 L1747.4 1205.0 L1754.2 1206.9 L1759.8 1203.5 L1764.6 1203.1 L1771.8 1209.0 L1779.3 1201.5 L1786.8 1208.7 L1794.1 1205.0 L1798.5 1207.4 L1803.6 1203.7 L1808.4 1208.2 L1814.3 1205.9 L1820.5 1205.5 L1828.2 1203.3 L1833.6 1204.6 L1837.9 1206.7 L1843.6 1204.3 L1849.9 1206.6 L1856.3 1211.0 L1863.2 1204.6 L1869.5 1206.2 L1874.4 1208.0 L1881.4 1205.5 L1887.4 1205.7 L1891.6 1210.9 L1898.8 1208.5 L1903.8 1206.2 L1910.5 1266.4 L1917.9 1210.9 L1922.5 1209.4 L1926.8 1208.6 L1931.8 1210.9 L1938.8 1208.7 L1945.0 1218.4 L1950.2 1222.6 L1957.3 1226.9 L1961.5 1229.6 L1968.5 1232.1 L1975.3 1240.5 L1980.7 1244.0 L1986.7 1247.6 L1990.0 1252.1 L2000.0 1300.0 L2012.0 1478.0 L2022.0 1300.0 L2030.0 1478.0 L2046.0 1330.0" stroke="#00cdcd"/>
<path d="M789.3 182.6 L791.0 522.7 L798.8 521.5 L806.6 517.0 L814.3 519.4 L822.0 521.9 L829.7 522.7 L837.4 522.8 L845.2 528.6 L852.9 530.4 L860.6 530.6 L868.3 528.5 L874.7 529.0 L881.1 529.7 L887.5 530.4 L899.0 532.3 L910.7 522.7 L922.2 538.0 L925.0 580.0 L933.0 700.0 L933.4 745.6 L938.0 748.0 L942.8 776.0 L947.5 783.4 L955.8 769.0 L961.7 786.0 L970.0 775.0 L976.0 790.5 L981.8 798.8 L987.7 814.0 L992.4 797.6 L999.0 795.2 L1005.5 796.4 L1013.7 833.0 L1025.6 811.8 L1031.5 849.7 L1036.0 838.7 L1043.2 841.7 L1050.4 845.9 L1059.1 874.8 L1067.8 871.9 L1075.0 879.0 L1082.2 884.9 L1085.1 916.7 L1090.9 870.4 L1099.5 942.7 L1108.2 957.1 L1116.9 938.3 L1125.5 944.1 L1134.2 925.3 L1145.8 942.7 L1157.3 942.7 L1164.5 962.9 L1171.0 966.9 L1177.5 965.8 L1183.3 1009.1 L1187.7 986.0 L1197.8 986.0 L1206.4 977.3 L1213.2 980.7 L1219.9 982.8 L1226.7 986.0 L1235.3 986.2 L1244.0 988.9 L1250.7 993.6 L1257.5 993.4 L1264.2 997.5 L1275.8 1017.8 L1283.0 1040.9 L1288.8 986.0 L1295.0 983.4 L1301.3 987.3 L1307.5 987.4 L1313.3 1020.7 L1322.0 1032.2 L1330.6 1077.0 L1339.3 1061.1 L1348.0 1091.4 L1359.5 1084.2 L1366.3 1086.3 L1373.0 1090.4 L1379.8 1090.0 L1382.6 1150.0 L1390.0 1178.0 L1396.3 1190.6 L1402.3 1193.3 L1409.9 1193.1 L1416.6 1193.2 L1423.9 1200.2 L1431.3 1193.9 L1439.0 1201.9 L1446.3 1193.4 L1454.3 1201.7 L1460.8 1194.6 L1466.9 1198.9 L1475.0 1200.3 L1483.2 1196.4 L1489.7 1202.0 L1497.2 1198.9 L1504.7 1198.6 L1510.4 1199.6 L1516.0 1202.0 L1522.5 1201.0 L1529.8 1198.9 L1536.7 1196.8 L1545.0 1202.7 L1553.4 1198.0 L1560.8 1205.0 L1567.3 1199.0 L1573.2 1199.7 L1580.0 1199.5 L1586.9 1202.1 L1593.3 1207.8 L1600.2 1206.8 L1606.2 1209.5 L1614.0 1208.4 L1621.0 1200.3 L1628.6 1201.3 L1634.9 1209.6 L1640.4 1200.3 L1648.1 1205.4 L1652.8 1200.1 L1659.1 1208.2 L1666.4 1208.5 L1671.3 1202.5 L1678.9 1204.3 L1685.0 1200.7 L1691.1 1200.4 L1696.8 1207.8 L1704.6 1205.4 L1709.1 1209.4 L1715.9 1200.4 L1720.4 1200.8 L1725.1 1203.5 L1732.6 1207.8 L1740.1 1203.5 L1745.9 1200.3 L1750.3 1205.2 L1758.0 1208.2 L1763.9 1208.2 L1768.2 1262.2 L1773.5 1200.6 L1778.3 1206.1 L1782.6 1281.1 L1788.3 1300.5 L1794.3 1206.5 L1800.5 1201.0 L1808.2 1203.1 L1812.9 1209.8 L1818.5 1207.0 L1824.6 1207.3 L1832.1 1201.4 L1837.2 1202.8 L1843.0 1205.0 L1847.2 1207.1 L1851.8 1207.6 L1856.5 1200.4 L1862.9 1205.4 L1870.0 1209.9 L1874.4 1201.2 L1881.2 1201.7 L1885.7 1249.6 L1890.6 1208.2 L1897.4 1202.6 L1904.4 1206.5 L1912.1 1204.7 L1916.4 1209.5 L1920.8 1206.0 L1926.1 1202.3 L1931.1 1208.3 L1937.8 1291.0 L1944.8 1215.7 L1949.0 1220.0 L1953.2 1232.3 L1961.0 1240.4 L1968.1 1241.9 L1974.6 1252.3 L1981.3 1255.3 L1988.9 1260.9 L1994.7 1267.3 L1999.2 1275.7 L2004.7 1277.4 L2011.4 1478.0 L2019.0 1292.5 L2023.6 1478.0 L2030.6 1305.1 L2035.9 1310.3 L2041.7 1312.5 L2046.0 1478.0" stroke="#00cdcd"/>
<path d="M272.0 182.6 L391.0 182.6" stroke="#00cdcd"/>
<path d="M481.0 182.6 L482.5 345.0 L485.6 490.2 L493.3 490.2 L497.9 494.9 L505.6 488.7 L508.7 488.7 L510.2 530.0 L512.5 707.7 L516.0 712.5 L511.0 733.8 L519.6 712.5 L525.5 819.0 L530.0 794.0 L533.8 794.0 L537.3 816.5 L537.4 987.8 L547.5 990.7 L556.0 1002.0 L562.0 1025.0 L566.3 1094.7 L570.7 1010.9 L579.3 1016.7 L583.7 993.5 L588.0 1019.5 L593.8 1016.7 L598.0 1039.8 L608.0 1019.5 L616.9 1015.2 L625.5 1048.4 L631.3 1034.0 L637.0 1051.3 L648.7 1068.7 L656.0 1048.4 L666.0 1068.7 L674.6 1083.6 L683.3 1091.8 L692.0 1065.8 L697.8 1077.3 L703.5 1054.2 L715.0 1088.9 L723.8 1077.3 L735.3 1054.2 L741.0 1080.2 L752.6 1065.8 L761.3 1091.8 L768.0 1090.5 L774.8 1091.4 L781.5 1088.9 L790.0 1100.4 L798.8 1104.9 L807.5 1106.2 L814.8 1099.9 L822.0 1097.5 L833.5 1114.9 L840.8 1110.5 L848.0 1112.0 L855.3 1117.1 L862.7 1118.0 L870.0 1125.0 L876.0 1126.2 L882.0 1131.7 L888.0 1133.6 L894.0 1130.3 L900.0 1135.0 L907.6 1151.9 L914.3 1145.6 L922.8 1143.8 L930.4 1150.1 L936.1 1152.6 L944.3 1150.5 L952.0 1153.1 L957.9 1149.9 L964.9 1153.9 L972.8 1154.2 L980.0 1155.3 L987.6 1153.3 L993.8 1145.6 L999.7 1149.8 L1005.5 1155.8 L1012.7 1153.6 L1020.1 1154.6 L1027.0 1146.8 L1034.9 1156.1 L1041.9 1153.8 L1049.4 1148.5 L1057.1 1151.1 L1062.8 1151.5 L1070.5 1151.1 L1078.2 1160.7 L1085.2 1153.9 L1092.2 1157.9 L1100.0 1157.4 L1107.4 1151.3 L1113.3 1153.6 L1121.1 1154.6 L1128.3 1151.4 L1134.0 1154.8 L1141.5 1160.2 L1149.0 1155.7 L1156.0 1158.1 L1162.9 1154.3 L1171.1 1155.6 L1179.6 1164.8 L1185.1 1159.3 L1193.1 1165.8 L1199.9 1157.7 L1206.0 1166.1 L1212.2 1162.0 L1218.1 1161.6 L1226.5 1157.3 L1234.4 1162.2 L1242.6 1164.9 L1248.8 1167.5 L1255.7 1157.3 L1261.2 1163.2 L1268.1 1161.2 L1274.0 1162.0 L1280.5 1168.2 L1286.0 1167.4 L1294.0 1160.2 L1302.3 1167.7 L1310.5 1162.9 L1317.1 1164.5 L1325.6 1167.2 L1332.2 1165.6 L1338.5 1161.3 L1344.3 1171.0 L1350.7 1172.5 L1356.9 1164.7 L1363.9 1164.2 L1370.6 1173.6 L1378.7 1172.3 L1386.1 1173.8 L1394.4 1169.8 L1402.1 1164.2 L1409.8 1169.4 L1417.5 1172.0 L1423.9 1165.2 L1432.2 1166.5 L1439.1 1169.4 L1445.5 1174.4 L1453.9 1169.0 L1461.4 1169.9 L1468.6 1171.3 L1474.6 1168.8 L1480.7 1178.0 L1487.7 1170.1 L1495.9 1179.8 L1502.7 1169.8 L1508.8 1169.5 L1515.3 1169.8 L1521.6 1172.1 L1528.8 1179.9 L1536.5 1174.6 L1543.3 1176.2 L1549.9 1174.3 L1555.6 1173.8 L1564.0 1172.4 L1571.0 1178.8 L1579.1 1174.2 L1580.0 1174.6 L1584.6 1193.5 L1592.2 1083.0 L1599.0 1190.0 L1605.7 1275.3 L1610.3 1111.3 L1615.4 1193.3 L1620.2 1193.6 L1625.0 1188.2 L1630.4 1083.0 L1638.1 1196.9 L1643.9 1195.7 L1650.6 1083.0 L1657.0 1083.0 L1664.4 1188.9 L1670.2 1276.9 L1676.2 1083.0 L1680.7 1187.3 L1687.6 1083.0 L1692.1 1193.9 L1698.3 1191.8 L1704.0 1187.9 L1709.9 1281.9 L1717.5 1083.0 L1724.3 1187.2 L1731.0 1191.2 L1736.5 1196.4 L1741.6 1188.9 L1748.1 1189.6 L1753.7 1083.0 L1761.4 1189.8 L1769.0 1189.5 L1773.3 1083.0 L1778.3 1189.6 L1783.4 1196.2 L1788.7 1190.7 L1794.9 1196.4 L1801.8 1195.4 L1807.3 1196.6 L1813.5 1190.1 L1821.0 1189.5 L1828.6 1190.4 L1833.7 1083.0 L1840.4 1083.0 L1846.2 1190.8 L1853.2 1083.0 L1859.0 1083.0 L1863.7 1188.5 L1870.3 1083.0 L1876.9 1287.0 L1883.4 1187.5 L1889.1 1083.0 L1896.6 1187.6 L1903.3 1192.4 L1907.8 1191.3 L1915.6 1195.3 L1923.1 1083.0 L1928.4 1083.0 L1934.7 1083.0 L1941.8 1192.3 L1947.0 1189.5 L1953.7 1187.0 L1961.5 1156.3 L1968.9 1191.0 L1974.7 1085.3 L1979.4 1195.1 L1986.2 1192.2 L1993.4 1196.0 L1997.8 1192.8 L2004.9 1193.8 L2012.6 1189.0 L2016.9 1191.8 L2022.5 1188.2 L2027.5 1083.0 L2034.8 1083.0 L2042.1 1187.3 L2046.0 1240.0" stroke="#ff3a3a"/>
<path d="M826.0 182.6 L826.0 488.0 L829.7 495.7 L833.6 500.0 L834.0 600.0 L837.5 980.0 L836.4 1045.5 L840.0 1090.0 L846.7 1101.5 L853.3 1107.8 L860.0 1120.0 L866.0 1119.2 L872.0 1123.0 L878.0 1127.9 L884.0 1126.6 L890.0 1130.0 L898.1 1156.9 L904.5 1145.5 L910.3 1157.2 L915.8 1156.7 L921.8 1154.8 L927.6 1148.3 L935.1 1147.7 L941.7 1157.9 L949.3 1157.8 L957.7 1148.0 L964.0 1157.4 L971.5 1148.7 L978.5 1151.3 L985.3 1150.1 L990.9 1161.0 L997.3 1159.9 L1003.2 1155.5 L1009.1 1155.1 L1015.1 1158.4 L1021.1 1159.3 L1028.1 1152.1 L1034.6 1157.0 L1042.9 1155.6 L1049.0 1163.3 L1057.2 1160.9 L1063.5 1154.5 L1069.8 1153.5 L1075.4 1159.0 L1082.2 1159.9 L1088.8 1153.6 L1096.3 1161.7 L1103.4 1160.7 L1111.0 1166.3 L1119.1 1163.5 L1125.8 1159.0 L1132.6 1167.1 L1139.3 1160.4 L1146.0 1157.8 L1154.5 1156.5 L1161.8 1167.9 L1168.1 1164.4 L1174.7 1160.3 L1180.8 1159.0 L1188.8 1167.4 L1197.1 1159.0 L1204.6 1162.6 L1212.1 1165.6 L1218.5 1171.0 L1224.0 1168.5 L1232.1 1166.1 L1239.4 1172.2 L1245.6 1168.1 L1253.3 1165.4 L1260.9 1166.0 L1268.0 1168.9 L1275.5 1165.8 L1282.9 1168.7 L1289.1 1169.9 L1295.4 1173.7 L1302.3 1171.8 L1309.4 1169.1 L1315.5 1165.4 L1323.8 1170.4 L1330.9 1170.7 L1338.8 1167.6 L1344.9 1174.9 L1351.7 1173.0 L1359.7 1176.4 L1367.8 1166.6 L1374.5 1176.3 L1382.4 1168.2 L1388.4 1170.0 L1394.2 1171.5 L1402.1 1173.9 L1409.0 1169.0 L1415.6 1180.2 L1423.2 1173.9 L1430.2 1178.4 L1437.9 1171.0 L1445.5 1173.9 L1452.5 1172.7 L1459.2 1174.2 L1465.8 1170.7 L1471.9 1177.6 L1477.6 1173.1 L1485.2 1174.6 L1491.7 1174.5 L1499.7 1173.1 L1507.1 1182.6 L1513.2 1177.7 L1521.1 1180.4 L1527.7 1173.8 L1534.5 1178.0 L1542.2 1177.4 L1548.9 1182.0 L1556.8 1178.8 L1563.5 1181.8 L1571.8 1177.5 L1580.0 1184.1 L1584.6 1083.0 L1589.4 1083.0 L1595.2 1246.4 L1602.4 1083.0 L1606.7 1224.1 L1614.4 1196.9 L1619.1 1192.1 L1625.8 1189.7 L1630.8 1188.3 L1635.1 1193.3 L1640.2 1196.1 L1645.4 1083.0 L1650.2 1187.3 L1657.2 1190.7 L1662.7 1196.5 L1670.1 1188.7 L1674.9 1188.9 L1681.6 1187.3 L1686.5 1190.2 L1693.1 1191.0 L1699.1 1194.3 L1705.2 1191.5 L1710.9 1189.4 L1718.2 1189.3 L1725.9 1083.0 L1732.1 1195.3 L1738.7 1187.0 L1746.5 1190.6 L1751.5 1083.0 L1756.1 1190.0 L1762.2 1187.7 L1769.1 1083.0 L1776.5 1190.2 L1782.5 1196.8 L1789.3 1191.0 L1796.0 1194.9 L1801.4 1192.2 L1807.5 1195.9 L1814.5 1191.0 L1820.2 1195.5 L1827.0 1083.0 L1831.4 1195.3 L1837.9 1083.0 L1844.3 1187.3 L1848.6 1115.3 L1853.0 1191.8 L1858.4 1189.1 L1862.7 1195.8 L1868.2 1195.7 L1872.5 1188.2 L1878.0 1083.0 L1882.8 1191.5 L1889.3 1194.4 L1896.9 1243.9 L1903.2 1219.9 L1910.4 1190.7 L1916.9 1190.7 L1921.7 1190.2 L1927.8 1194.8 L1934.4 1195.6 L1939.2 1188.6 L1946.6 1194.0 L1954.3 1083.0 L1958.9 1189.5 L1965.5 1189.6 L1971.2 1083.0 L1976.0 1083.0 L1981.2 1194.7 L1986.3 1193.3 L1992.1 1187.8 L1999.4 1196.7 L2006.5 1189.2 L2011.1 1189.0 L2017.5 1189.7 L2023.8 1289.5 L2030.3 1192.1 L2035.4 1191.9 L2043.0 1195.9 L2046.0 1260.0" stroke="#ff3a3a"/>
<path d="M384.0 182.6 L392.0 345.0 L391.6 357.7 L397.0 350.0 L405.4 390.0 L410.0 370.0 L416.2 382.4 L420.8 377.8 L424.0 394.7 L434.7 405.5 L444.0 404.0 L451.7 391.6 L456.3 390.0 L465.5 393.2 L471.7 396.0 L477.9 402.4 L487.0 417.8 L493.3 431.7 L499.4 417.8 L508.7 430.2 L518.0 421.0 L524.0 434.8 L530.2 428.6 L536.4 450.2 L542.6 447.0 L551.8 456.3 L561.0 436.3 L570.3 451.7 L578.0 453.0 L585.7 454.8 L593.4 449.3 L601.0 441.0 L607.3 430.2 L618.0 424.0 L625.0 426.5 L632.0 427.0 L642.7 431.7 L650.4 430.5 L658.0 427.0 L665.8 447.0 L672.0 496.4 L675.6 472.6 L685.0 465.0 L697.0 490.0 L703.5 499.2 L710.0 509.0 L714.0 499.6 L720.0 509.0 L727.6 493.8 L741.0 547.7 L742.0 700.0 L744.0 1129.0 L754.4 1137.5 L762.4 1143.6 L768.5 1148.7 L774.6 1149.6 L782.7 1141.6 L788.8 1143.8 L794.8 1145.6 L802.4 1140.9 L810.0 1142.0 L816.7 1143.4 L823.3 1142.2 L830.0 1147.0 L836.7 1148.0 L843.3 1146.1 L850.0 1141.0 L856.7 1141.5 L863.3 1143.0 L870.0 1146.0 L876.7 1146.9 L883.3 1141.9 L890.0 1143.0 L897.0 1141.4 L904.0 1142.1 L911.0 1143.9 L918.0 1145.6 L924.0 1151.7 L930.5 1151.2 L937.9 1150.6 L945.0 1154.4 L950.7 1156.4 L956.3 1155.7 L962.0 1151.9 L968.8 1161.0 L974.7 1154.0 L982.1 1163.1 L989.3 1156.8 L997.7 1153.0 L1005.8 1156.2 L1011.7 1154.4 L1018.1 1163.1 L1024.2 1160.6 L1031.6 1158.4 L1038.8 1155.0 L1044.4 1157.0 L1052.0 1160.0 L1058.4 1162.2 L1065.3 1159.0 L1073.2 1164.2 L1079.4 1163.0 L1086.5 1166.9 L1094.2 1160.2 L1102.6 1158.5 L1109.3 1166.5 L1115.3 1163.6 L1120.9 1166.0 L1128.7 1165.2 L1136.8 1162.4 L1144.4 1166.1 L1151.7 1164.8 L1159.7 1171.0 L1166.6 1168.0 L1172.3 1168.7 L1179.7 1172.5 L1187.7 1164.4 L1194.4 1169.3 L1199.9 1167.0 L1205.9 1163.2 L1211.6 1171.2 L1217.5 1165.3 L1224.2 1173.0 L1229.9 1168.2 L1237.1 1173.8 L1245.0 1173.9 L1251.3 1168.8 L1257.9 1174.7 L1266.3 1166.3 L1272.3 1167.5 L1278.5 1170.9 L1285.8 1168.5 L1291.3 1170.6 L1297.9 1172.7 L1306.3 1174.6 L1313.3 1174.0 L1320.8 1167.6 L1329.0 1176.7 L1337.2 1177.2 L1343.8 1172.8 L1349.7 1175.8 L1355.3 1169.3 L1361.5 1170.7 L1368.0 1169.7 L1373.5 1171.1 L1379.3 1173.9 L1384.9 1180.3 L1392.2 1171.9 L1398.5 1174.6 L1405.1 1172.2 L1413.1 1183.0 L1420.0 1177.2 L1425.8 1172.9 L1432.3 1175.1 L1440.3 1174.2 L1445.9 1184.0 L1452.9 1174.6 L1460.1 1173.5 L1467.1 1185.3 L1475.2 1182.2 L1481.5 1178.6 L1487.5 1183.7 L1494.6 1184.1 L1501.1 1177.7 L1509.0 1187.2 L1517.1 1185.4 L1525.1 1185.0 L1531.2 1182.6 L1537.8 1177.0 L1543.4 1180.3 L1549.7 1185.5 L1558.0 1183.0 L1566.3 1189.8 L1574.7 1182.7 L1580.0 1181.3 L1585.8 1210.2 L1591.7 1206.9 L1596.6 1207.3 L1603.6 1260.0 L1608.2 1207.9 L1612.5 1210.6 L1619.1 1275.0 L1623.3 1201.6 L1628.2 1292.0 L1634.1 1209.4 L1640.1 1206.0 L1646.7 1274.0 L1654.5 1209.4 L1661.3 1203.3 L1666.5 1288.5 L1672.1 1204.9 L1679.8 1201.0 L1684.7 1205.7 L1692.5 1201.7 L1698.9 1203.7 L1703.5 1330.0 L1710.4 1249.5 L1714.9 1083.0 L1719.8 1205.5 L1724.7 1202.3 L1731.2 1472.0 L1736.2 1303.8 L1743.2 1209.8 L1748.2 1209.5 L1754.7 1305.2 L1759.7 1289.0 L1765.1 1346.0 L1769.6 1203.4 L1776.0 1431.0 L1783.6 1206.7 L1790.9 1446.0 L1798.4 1203.5 L1803.3 1210.4 L1808.2 1209.8 L1814.6 1202.0 L1818.9 1203.4 L1825.6 1292.8 L1832.0 1202.8 L1838.8 1083.0 L1845.0 1207.1 L1850.2 1203.0 L1854.5 1264.4 L1858.9 1258.7 L1865.1 1258.2 L1872.5 1207.6 L1879.2 1202.4 L1883.6 1148.2 L1891.2 1083.0 L1897.2 1204.2 L1905.0 1272.0 L1911.8 1208.4 L1918.5 1210.2 L1924.0 1210.0 L1931.4 1208.9 L1938.7 1207.2 L1944.2 1207.1 L1948.7 1210.9 L1956.1 1204.9 L1962.9 1205.4 L1970.2 1287.3 L1974.5 1205.8 L1979.5 1206.0 L1985.9 1203.6 L1990.1 1207.8 L1995.1 1298.9 L2001.7 1209.9 L2007.0 1203.0 L2012.8 1210.1 L2020.1 1206.8 L2025.5 1268.2 L2032.7 1208.1 L2040.3 1202.7 L2046.0 1300.0" stroke="#4d4d4d"/>
<path d="M852.9 182.6 L853.0 511.0 L860.5 512.1 L868.0 509.0 L880.0 511.0 L887.5 510.4 L895.0 513.0 L904.6 520.6 L905.0 600.0 L907.0 980.0 L908.0 1040.0 L915.0 1060.0 L922.5 1072.0 L930.0 1080.0 L936.7 1086.9 L943.3 1096.7 L950.0 1100.0 L956.2 1104.1 L962.5 1107.0 L968.8 1108.3 L975.0 1115.0 L981.2 1117.0 L987.5 1123.2 L993.8 1125.9 L1000.0 1125.0 L1006.0 1125.3 L1012.0 1131.2 L1018.0 1129.0 L1024.0 1133.6 L1030.0 1135.0 L1037.7 1105.0 L1045.3 1074.6 L1053.0 1047.0 L1060.0 1140.0 L1066.6 1170.5 L1073.1 1163.6 L1080.9 1167.7 L1088.0 1169.4 L1096.2 1172.9 L1101.7 1171.2 L1108.6 1169.9 L1116.6 1169.7 L1123.6 1175.7 L1130.4 1171.3 L1137.4 1175.6 L1144.9 1174.9 L1151.6 1166.8 L1159.2 1173.3 L1167.0 1176.3 L1172.8 1169.9 L1178.6 1177.3 L1184.4 1168.9 L1192.1 1174.9 L1197.8 1176.6 L1205.4 1174.5 L1211.1 1177.3 L1217.8 1176.3 L1226.3 1179.5 L1234.5 1171.8 L1241.0 1176.6 L1246.5 1182.5 L1252.8 1174.0 L1259.2 1174.2 L1267.3 1178.2 L1274.3 1176.9 L1280.0 1175.8 L1288.1 1182.1 L1296.2 1175.9 L1302.3 1173.7 L1309.4 1177.9 L1316.3 1179.6 L1323.5 1178.4 L1331.4 1176.8 L1339.7 1181.5 L1345.3 1178.8 L1352.4 1180.3 L1359.6 1179.6 L1366.0 1185.5 L1372.3 1184.8 L1380.2 1183.7 L1387.1 1188.1 L1393.9 1187.8 L1399.6 1182.7 L1407.0 1178.4 L1415.1 1179.0 L1422.4 1180.7 L1430.7 1185.6 L1438.6 1185.2 L1446.1 1187.7 L1452.5 1182.4 L1460.5 1182.0 L1468.8 1183.1 L1474.6 1182.0 L1482.4 1192.6 L1489.2 1189.4 L1495.4 1192.7 L1503.0 1184.0 L1508.7 1190.7 L1514.3 1192.7 L1520.7 1185.7 L1527.9 1187.1 L1535.1 1185.4 L1543.3 1187.8 L1551.3 1186.1 L1559.2 1196.4 L1565.9 1185.4 L1572.6 1193.0 L1578.7 1192.1 L1580.0 1191.2 L1586.2 1207.4 L1591.4 1202.4 L1597.1 1200.0 L1602.9 1255.2 L1610.7 1205.1 L1616.4 1203.5 L1621.2 1203.1 L1628.3 1201.0 L1634.9 1204.1 L1639.9 1206.9 L1646.0 1206.6 L1652.3 1203.0 L1658.7 1200.0 L1666.3 1200.4 L1671.0 1199.7 L1676.6 1205.6 L1682.5 1205.6 L1687.9 1206.0 L1695.6 1208.7 L1700.5 1208.7 L1704.8 1208.1 L1709.5 1297.7 L1717.1 1206.2 L1724.1 1199.1 L1730.5 1208.5 L1736.6 1400.0 L1742.4 1199.3 L1747.3 1200.3 L1751.9 1231.5 L1758.9 1201.0 L1765.4 1201.4 L1770.8 1380.0 L1777.2 1204.7 L1782.6 1206.8 L1787.0 1201.9 L1794.4 1205.7 L1800.1 1204.0 L1807.5 1202.9 L1812.3 1203.7 L1818.8 1202.2 L1826.4 1203.4 L1831.4 1208.2 L1836.2 1205.5 L1841.0 1349.0 L1845.4 1208.7 L1851.3 1200.1 L1856.6 1200.2 L1863.3 1206.2 L1867.9 1330.0 L1872.1 1207.2 L1877.1 1405.0 L1882.2 1202.9 L1887.5 1206.3 L1894.5 1199.7 L1899.6 1207.0 L1906.5 1238.6 L1911.7 1206.5 L1917.2 1206.4 L1922.5 1289.8 L1929.2 1206.4 L1934.7 1202.7 L1942.2 1281.2 L1947.6 1207.0 L1952.5 1083.0 L1960.1 1206.1 L1965.1 1262.4 L1971.2 1199.6 L1978.4 1206.1 L1983.8 1452.0 L1988.7 1207.8 L1995.9 1201.4 L2002.4 1202.0 L2009.4 1207.9 L2015.1 1249.3 L2022.0 1205.4 L2027.6 1199.7 L2032.1 1200.1 L2038.6 1200.7 L2045.6 1202.2 L2046.0 1180.0" stroke="#4d4d4d"/>
<path d="M772.0 182.6 L772.0 455.0 L778.3 454.4 L784.7 454.3 L791.0 457.0 L797.5 457.2 L804.0 454.4 L810.5 455.0 L816.9 456.3 L823.3 454.6 L829.7 457.0 L836.1 459.4 L842.6 457.9 L849.0 457.0 L858.6 465.0 L868.3 472.6 L876.0 472.6 L887.5 453.3 L899.0 449.5 L903.0 455.0 L905.0 520.7 L906.0 600.0 L909.7 980.0 L911.8 1046.6 L917.6 1072.7 L926.2 1081.3 L937.8 1014.9 L946.4 1046.6 L956.6 1038.0 L963.8 1064.0 L972.4 1029.3 L982.6 1003.3 L989.8 1049.5 L1001.3 1017.8 L1012.9 1043.7 L1018.7 1090.0 L1027.3 1118.9 L1034.9 1124.5 L1042.4 1129.9 L1050.0 1140.0 L1056.0 1144.4 L1062.0 1146.8 L1068.0 1144.9 L1074.0 1145.2 L1080.0 1150.0 L1086.2 1169.8 L1091.8 1176.4 L1099.8 1172.0 L1105.9 1175.6 L1113.9 1178.9 L1119.9 1177.7 L1127.9 1177.7 L1134.4 1172.4 L1142.4 1174.1 L1149.0 1176.7 L1155.6 1179.8 L1161.8 1172.2 L1169.0 1178.4 L1177.0 1179.5 L1185.2 1182.3 L1192.2 1178.1 L1198.1 1176.4 L1205.4 1174.5 L1213.0 1175.7 L1219.8 1184.1 L1225.6 1175.0 L1232.4 1176.9 L1240.0 1175.3 L1248.1 1184.2 L1255.9 1180.3 L1262.3 1182.9 L1269.3 1180.8 L1275.8 1181.3 L1283.3 1185.5 L1291.5 1179.3 L1297.9 1182.3 L1305.1 1181.7 L1311.2 1179.4 L1317.7 1183.4 L1326.1 1188.3 L1334.2 1189.3 L1342.6 1186.1 L1350.5 1180.9 L1358.0 1186.7 L1364.4 1186.6 L1372.8 1186.1 L1380.2 1184.6 L1386.8 1190.8 L1392.3 1184.0 L1399.9 1187.0 L1405.6 1189.4 L1412.3 1188.9 L1419.0 1188.7 L1426.2 1187.6 L1432.0 1185.7 L1440.2 1189.8 L1446.0 1193.2 L1452.3 1185.8 L1459.4 1187.7 L1466.4 1191.0 L1472.5 1191.5 L1478.4 1191.2 L1485.6 1187.2 L1492.4 1187.4 L1499.2 1195.6 L1506.3 1194.4 L1514.1 1188.8 L1522.6 1195.2 L1528.4 1196.6 L1535.1 1190.3 L1543.4 1194.6 L1551.3 1190.7 L1559.1 1190.2 L1565.3 1193.7 L1570.9 1196.1 L1577.0 1193.5 L1580.0 1194.9 L1585.6 1205.4 L1590.5 1203.4 L1594.9 1199.6 L1600.2 1202.9 L1604.8 1205.3 L1610.9 1203.2 L1618.0 1200.6 L1623.9 1206.7 L1630.4 1202.8 L1636.1 1198.6 L1642.0 1202.6 L1648.0 1205.8 L1652.4 1205.2 L1657.4 1202.6 L1663.1 1202.0 L1669.1 1205.2 L1674.3 1201.1 L1681.4 1201.6 L1687.3 1203.2 L1692.8 1198.3 L1697.3 1205.8 L1704.3 1198.5 L1711.9 1198.7 L1718.1 1202.4 L1724.0 1201.9 L1729.8 1201.5 L1735.3 1198.1 L1742.2 1205.1 L1749.0 1203.1 L1754.0 1204.5 L1759.1 1205.1 L1765.4 1202.2 L1770.2 1199.7 L1777.8 1197.8 L1783.5 1204.0 L1788.2 1199.7 L1792.8 1203.9 L1797.8 1205.6 L1805.2 1197.7 L1812.7 1198.7 L1819.7 1204.2 L1826.4 1201.6 L1831.7 1199.8 L1836.9 1199.8 L1842.6 1197.0 L1847.9 1206.8 L1853.3 1197.6 L1859.2 1202.0 L1864.5 1206.1 L1871.5 1197.7 L1875.9 1198.3 L1882.2 1198.3 L1889.6 1204.1 L1897.0 1206.0 L1904.7 1197.5 L1912.0 1198.1 L1919.3 1197.3 L1926.0 1204.5 L1930.4 1198.2 L1934.9 1206.8 L1939.8 1213.0 L1944.9 1218.7 L1950.5 1218.7 L1958.3 1234.6 L1964.4 1233.2 L1970.4 1241.9 L1976.8 1246.1 L1981.7 1250.0 L1986.6 1257.9 L1994.4 1270.1 L2000.2 1269.6 L2007.7 1278.9 L2012.1 1286.1 L2018.9 1290.2 L2026.1 1297.5 L2030.5 1300.9 L2036.4 1303.6 L2041.0 1310.6 L2046.0 1300.0" stroke="#7a4646"/>
<path d="M716.0 182.6 L717.0 465.0 L723.5 470.5 L730.0 472.0 L736.7 472.5 L743.3 474.1 L750.0 478.0 L756.7 477.4 L763.3 481.9 L770.0 482.0 L776.7 485.8 L783.3 488.5 L790.0 488.0 L802.0 495.0 L804.0 600.0 L804.0 860.0 L805.6 906.4 L810.4 953.0 L819.0 967.5 L827.8 973.3 L839.3 985.0 L845.0 1008.0 L851.0 996.4 L859.5 997.6 L868.0 996.4 L874.0 1008.0 L885.5 1036.9 L897.0 1028.2 L908.6 1051.3 L917.3 1048.4 L923.0 1083.0 L929.8 1087.9 L936.5 1092.1 L943.3 1094.7 L950.5 1091.7 L957.8 1088.9 L965.0 1077.7 L972.2 1065.8 L978.6 1080.4 L985.0 1100.0 L992.5 1101.8 L1000.0 1110.0 L1006.0 1115.6 L1012.0 1118.1 L1018.0 1122.3 L1024.0 1123.7 L1030.0 1125.0 L1036.0 1128.6 L1042.0 1128.7 L1048.0 1136.6 L1054.0 1137.2 L1060.0 1140.0 L1068.2 1171.8 L1076.3 1171.6 L1084.5 1175.0 L1090.5 1174.0 L1097.1 1174.5 L1104.6 1175.5 L1110.5 1171.2 L1118.2 1177.3 L1125.8 1168.6 L1133.2 1169.5 L1140.3 1176.8 L1146.1 1178.3 L1153.7 1172.0 L1159.8 1174.2 L1167.8 1175.9 L1173.6 1170.5 L1179.4 1178.6 L1185.5 1176.4 L1191.9 1178.0 L1198.5 1172.9 L1206.6 1177.2 L1214.2 1180.2 L1222.5 1172.7 L1229.1 1174.3 L1236.1 1181.9 L1244.0 1173.8 L1250.0 1181.9 L1257.6 1178.0 L1264.5 1176.0 L1272.5 1178.7 L1280.6 1181.2 L1286.4 1178.7 L1292.5 1184.6 L1299.8 1176.4 L1305.8 1179.9 L1312.7 1182.3 L1319.4 1180.4 L1324.9 1182.9 L1331.4 1177.6 L1338.3 1187.6 L1343.9 1179.4 L1351.4 1181.0 L1357.7 1183.6 L1364.0 1184.6 L1371.1 1188.8 L1379.6 1179.9 L1386.8 1187.6 L1394.9 1188.0 L1402.3 1186.9 L1408.9 1183.7 L1416.8 1190.0 L1425.1 1188.4 L1431.5 1189.6 L1439.2 1187.4 L1446.6 1186.1 L1453.8 1187.0 L1459.4 1186.5 L1465.9 1193.4 L1472.9 1187.5 L1479.1 1186.4 L1485.6 1185.7 L1491.2 1193.3 L1498.0 1189.4 L1505.2 1188.3 L1511.2 1186.2 L1517.6 1188.9 L1525.3 1191.7 L1533.6 1189.9 L1541.9 1192.7 L1547.6 1188.9 L1554.9 1197.3 L1561.4 1195.5 L1568.2 1196.8 L1573.9 1193.2 L1580.0 1191.4" stroke="#7a4646"/>
<path d="M503.0 182.6 L504.0 373.0 L510.2 374.6 L516.4 371.6 L524.0 374.7 L533.3 370.0 L544.0 376.2 L555.0 377.8 L562.6 381.2 L570.3 380.8 L576.5 379.7 L582.6 376.2 L593.4 373.0 L601.0 376.2 L608.8 374.1 L616.5 374.7 L624.2 374.6 L632.0 376.2 L641.0 385.5 L647.2 383.5 L653.5 379.3 L659.6 381.6 L665.8 380.8 L671.9 382.2 L678.0 388.5 L690.0 390.0 L695.0 395.5 L706.4 382.0 L712.2 407.0 L723.8 405.0 L733.4 401.3 L743.0 411.0 L752.7 407.0 L760.4 424.4 L764.2 430.2 L771.0 434.3 L777.7 441.7 L784.1 441.4 L790.6 435.3 L797.0 435.0 L802.8 441.7 L803.0 600.0 L805.0 859.0 L807.5 860.7 L813.3 906.9 L819.0 956.0 L826.3 915.5 L836.4 947.3 L845.0 912.7 L853.8 973.3 L865.3 979.1 L876.9 970.4 L888.4 987.8 L894.2 964.7 L905.7 996.4 L914.4 1019.5 L923.0 1008.0 L935.0 1060.0 L942.5 1068.6 L950.0 1075.0 L957.5 1070.3 L965.0 1068.0 L971.7 1074.7 L978.3 1081.9 L985.0 1085.0 L991.5 1088.7 L998.0 1090.6 L1004.5 1093.3 L1011.0 1097.7 L1017.1 1099.2 L1023.2 1099.9 L1029.3 1099.0 L1035.4 1100.1 L1041.5 1101.0 L1048.2 1103.8 L1055.0 1104.3 L1061.8 1106.3 L1068.5 1111.0 L1075.2 1111.5 L1082.0 1108.2 L1088.7 1111.0 L1095.0 1114.5 L1101.2 1118.7 L1107.5 1121.7 L1113.7 1120.5 L1120.0 1125.0 L1126.0 1126.4 L1132.0 1132.0 L1138.0 1129.9 L1144.0 1136.4 L1150.0 1135.0 L1156.2 1134.1 L1162.5 1139.9 L1168.8 1135.5 L1175.0 1141.2 L1181.2 1143.4 L1187.5 1142.8 L1193.8 1144.7 L1200.0 1145.0 L1206.2 1148.5 L1212.5 1149.7 L1218.8 1144.6 L1225.0 1147.7 L1231.2 1144.9 L1237.5 1147.9 L1243.8 1146.9 L1250.0 1150.0 L1256.8 1148.0 L1263.6 1151.7 L1270.4 1148.3 L1277.2 1149.2 L1284.0 1152.0 L1284.4 1104.0 L1291.1 1102.9 L1297.8 1110.9 L1304.5 1111.0 L1310.6 1110.8 L1316.8 1111.1 L1322.9 1116.5 L1329.0 1118.7 L1335.2 1119.6 L1341.3 1120.6 L1347.5 1122.1 L1353.6 1124.9 L1359.7 1123.6 L1365.9 1128.9 L1372.0 1128.0 L1378.1 1131.2 L1384.2 1134.1 L1390.3 1136.2 L1396.4 1137.7 L1402.5 1137.2 L1408.5 1139.1 L1414.6 1142.4 L1420.7 1143.1 L1426.8 1141.1 L1432.9 1149.1 L1439.0 1148.0 L1445.2 1147.4 L1451.3 1151.0 L1457.5 1152.3 L1463.6 1151.3 L1469.8 1156.3 L1475.9 1157.9 L1482.1 1161.0 L1488.2 1161.1 L1494.4 1160.6 L1500.5 1163.9 L1506.7 1165.0 L1512.8 1169.8 L1518.9 1169.0 L1525.1 1172.0 L1531.2 1167.8 L1537.3 1174.1 L1543.4 1172.3 L1549.5 1173.5 L1555.6 1176.2 L1561.8 1176.7 L1567.9 1177.6 L1574.0 1182.0 L1581.7 1192.4 L1586.4 1185.2 L1593.8 1193.6 L1601.6 1188.4 L1608.4 1187.6 L1613.4 1193.7 L1620.5 1194.2 L1626.5 1189.6 L1632.2 1190.6 L1637.7 1194.3 L1644.2 1193.6 L1652.0 1194.5 L1656.3 1186.7 L1663.9 1192.2 L1669.1 1193.9 L1673.6 1185.5 L1679.5 1190.5 L1685.2 1186.8 L1692.8 1187.4 L1698.1 1188.2 L1705.6 1189.4 L1710.0 1193.0 L1715.9 1189.9 L1721.5 1194.3 L1728.4 1185.4 L1735.8 1186.6 L1741.8 1194.8 L1746.1 1193.4 L1752.4 1192.8 L1758.7 1187.6 L1763.2 1188.3 L1769.8 1188.5 L1776.2 1191.0 L1781.5 1193.0 L1788.9 1185.2 L1795.5 1188.9 L1801.6 1187.5 L1809.4 1194.1 L1816.0 1188.2 L1822.4 1188.4 L1826.8 1193.6 L1833.6 1193.4 L1839.9 1193.9 L1844.6 1188.4 L1851.4 1189.8 L1858.9 1192.9 L1863.1 1186.6 L1869.7 1191.6 L1876.0 1192.5 L1881.5 1190.6 L1887.6 1190.3 L1893.4 1192.1 L1900.4 1193.7 L1908.2 1189.1 L1913.4 1187.7 L1921.2 1194.2 L1927.9 1186.0 L1934.4 1193.1 L1941.5 1193.8 L1948.8 1192.2 L1956.2 1197.0 L1961.9 1198.3 L1968.1 1201.2 L1974.0 1204.2 L1979.8 1209.2 L1987.5 1211.7 L1991.8 1212.5 L1996.6 1214.9 L2003.0 1207.2 L2008.8 1216.5 L2014.4 1214.4 L2020.9 1213.9 L2028.5 1219.4 L2036.2 1222.1 L2041.2 1226.0 L2046.0 1230.0" stroke="#8c8c00"/>
<path d="M812.4 182.6 L812.4 557.0 L814.0 557.0 L826.0 567.0 L833.6 567.0 L841.3 564.7 L849.0 565.0 L855.4 563.3 L861.9 564.5 L868.3 565.0 L874.7 564.0 L881.1 565.9 L887.5 567.0 L895.0 578.5 L905.0 572.8 L912.6 571.0 L916.4 580.5 L916.8 700.0 L917.0 864.0 L924.0 862.3 L931.0 866.0 L938.0 909.0 L947.5 920.6 L952.0 901.7 L959.0 911.0 L970.0 894.6 L976.0 930.0 L980.6 925.0 L987.7 944.0 L994.8 958.5 L1000.7 918.0 L1005.5 968.0 L1013.7 956.0 L1018.5 980.0 L1024.4 1006.2 L1030.2 1066.9 L1038.9 1064.0 L1046.1 1069.9 L1053.3 1075.5 L1064.9 1090.0 L1070.7 1017.8 L1079.3 1098.6 L1088.0 1104.4 L1096.7 1102.0 L1105.3 1098.6 L1116.9 1104.4 L1128.4 1075.5 L1140.0 1101.5 L1147.2 1110.6 L1154.4 1121.8 L1161.7 1124.0 L1168.9 1121.8 L1174.7 1058.2 L1183.3 1124.6 L1190.5 1106.9 L1197.8 1095.8 L1206.4 1139.0 L1214.3 1142.7 L1222.1 1139.2 L1230.0 1140.0 L1237.9 1175.4 L1245.1 1177.4 L1252.2 1178.4 L1259.5 1175.5 L1267.3 1175.1 L1274.9 1180.5 L1282.7 1176.3 L1290.5 1183.3 L1297.4 1176.7 L1304.5 1183.6 L1310.4 1174.6 L1317.3 1181.3 L1325.1 1178.8 L1333.6 1177.8 L1341.3 1176.8 L1346.9 1177.5 L1352.6 1181.4 L1359.8 1178.5 L1368.1 1180.7 L1374.0 1179.1 L1381.8 1186.9 L1387.7 1178.2 L1395.6 1180.7 L1404.0 1183.7 L1411.4 1182.5 L1419.3 1184.0 L1425.8 1188.7 L1431.6 1187.3 L1437.3 1186.6 L1444.0 1189.1 L1449.7 1186.4 L1456.4 1190.2 L1464.8 1187.7 L1470.9 1184.2 L1477.2 1186.3 L1483.4 1184.3 L1491.2 1189.0 L1497.6 1192.8 L1503.7 1188.9 L1509.7 1192.1 L1517.8 1186.5 L1525.6 1192.4 L1531.9 1187.8 L1538.9 1193.7 L1544.9 1191.8 L1552.2 1189.9 L1559.4 1194.5 L1565.5 1194.8 L1572.1 1194.0 L1580.0 1188.4 L1586.5 1197.6 L1591.4 1196.2 L1596.8 1196.1 L1601.7 1192.9 L1606.2 1193.7 L1610.6 1195.7 L1617.5 1197.9 L1621.7 1194.4 L1626.9 1191.4 L1633.4 1193.2 L1638.0 1191.0 L1644.9 1195.8 L1651.0 1195.1 L1656.1 1189.7 L1663.8 1195.8 L1669.3 1192.2 L1674.6 1196.2 L1680.0 1195.8 L1684.9 1193.2 L1690.9 1195.6 L1696.9 1191.4 L1701.3 1189.1 L1706.4 1194.9 L1711.7 1193.1 L1718.0 1190.2 L1725.0 1196.9 L1731.7 1188.6 L1738.7 1194.1 L1743.3 1192.1 L1749.1 1197.0 L1756.4 1194.2 L1761.4 1196.4 L1766.8 1196.8 L1772.2 1189.8 L1779.5 1189.4 L1785.3 1189.0 L1791.7 1188.3 L1797.7 1192.7 L1804.8 1191.0 L1809.8 1189.5 L1816.6 1194.9 L1824.0 1194.1 L1830.4 1192.3 L1835.7 1192.0 L1840.2 1189.7 L1846.4 1188.2 L1854.0 1193.8 L1860.0 1194.0 L1865.0 1190.0 L1871.2 1195.7 L1876.8 1190.1 L1883.5 1191.5 L1889.5 1197.1 L1897.2 1188.7 L1903.5 1195.3 L1907.9 1189.3 L1915.1 1193.4 L1920.9 1189.3 L1927.5 1197.3 L1934.2 1198.9 L1939.8 1200.9 L1944.2 1199.7 L1951.8 1196.4 L1958.9 1201.9 L1965.3 1200.8 L1970.8 1203.2 L1975.5 1204.3 L1980.7 1204.3 L1986.6 1205.5 L1993.8 1216.4 L1998.4 1211.5 L2005.4 1215.0 L2011.9 1217.9 L2019.1 1222.3 L2026.8 1224.8 L2034.4 1222.7 L2040.9 1228.9 L2046.0 1240.0" stroke="#8c8c00"/>
<path d="M652.7 182.6 L652.7 436.0 L660.0 445.0 L666.7 448.8 L673.3 447.8 L680.0 450.0 L686.7 453.3 L693.3 452.1 L700.0 455.0 L707.5 456.4 L715.0 458.0 L721.5 458.9 L728.0 462.0 L731.0 600.0 L733.0 1000.0 L738.0 1100.0 L750.0 1107.0 L760.4 1105.0 L770.5 1133.5 L776.6 1126.7 L782.7 1119.3 L790.8 1079.0 L794.8 1141.6 L802.9 1106.2 L811.0 1076.8 L815.0 1141.6 L822.0 1137.0 L829.0 1133.5 L837.0 1135.5 L845.0 1140.0 L852.5 1135.8 L860.0 1138.0 L866.7 1142.5 L873.3 1145.6 L880.0 1145.0 L888.3 1158.2 L896.3 1161.3 L902.6 1148.6 L908.7 1150.9 L914.4 1149.4 L921.6 1161.2 L928.5 1162.5 L936.7 1150.5 L944.0 1155.5 L949.8 1163.7 L956.1 1158.4 L963.5 1164.2 L971.0 1156.7 L977.9 1153.7 L986.3 1165.8 L992.5 1152.7 L998.7 1157.4 L1006.9 1165.5 L1014.9 1153.8 L1022.8 1163.5 L1030.2 1167.7 L1035.9 1156.1 L1043.7 1167.6 L1051.2 1159.0 L1058.5 1165.7 L1064.3 1159.9 L1070.6 1157.4 L1077.5 1158.3 L1083.7 1158.3 L1091.3 1156.8 L1098.9 1159.7 L1104.5 1170.2 L1110.7 1170.6 L1118.8 1170.3 L1124.7 1164.4 L1130.5 1171.4 L1138.5 1167.5 L1145.4 1163.8 L1153.3 1166.1 L1160.7 1161.7 L1166.9 1160.8 L1174.5 1168.1 L1180.5 1172.8 L1186.8 1166.7 L1192.7 1165.0 L1200.8 1166.2 L1206.8 1168.7 L1213.2 1174.7 L1219.1 1176.1 L1224.7 1175.1 L1232.2 1165.9 L1239.2 1167.3 L1245.4 1166.4 L1252.0 1177.7 L1260.5 1177.2 L1266.3 1168.5 L1274.5 1165.7 L1282.2 1169.3 L1290.6 1165.8 L1298.5 1170.7 L1304.5 1166.2 L1312.5 1173.9 L1318.5 1172.9 L1326.7 1170.3 L1334.0 1169.5 L1340.0 1178.6 L1347.6 1170.9 L1353.4 1169.6 L1360.7 1175.7 L1367.0 1171.9 L1374.4 1179.3 L1382.3 1177.9 L1388.4 1170.9 L1396.1 1176.0 L1403.8 1171.4 L1411.7 1175.7 L1419.7 1183.5 L1426.7 1171.9 L1434.9 1178.7 L1443.0 1176.2 L1449.1 1184.4 L1455.7 1175.3 L1462.3 1181.6 L1467.8 1180.8 L1474.7 1181.1 L1480.5 1184.1 L1488.5 1186.6 L1494.9 1184.7 L1501.6 1185.6 L1507.3 1187.5 L1515.6 1182.6 L1522.7 1183.4 L1529.8 1176.6 L1538.2 1179.9 L1544.2 1178.4 L1550.5 1188.7 L1556.1 1178.9 L1563.7 1180.6 L1569.2 1186.5 L1576.5 1185.8 L1580.0 1180.0 L1584.8 1193.3 L1590.7 1083.0 L1597.8 1192.1 L1602.9 1083.0 L1609.2 1083.0 L1614.2 1083.0 L1622.0 1195.8 L1628.4 1083.0 L1634.4 1112.1 L1639.2 1188.2 L1646.7 1192.5 L1652.2 1274.0 L1656.5 1189.3 L1663.5 1153.6 L1670.4 1192.8 L1677.2 1083.0 L1684.4 1153.1 L1690.1 1191.5 L1695.7 1190.9 L1700.0 1083.0 L1707.8 1191.9 L1713.9 1189.2 L1720.3 1193.2 L1725.2 1083.0 L1732.7 1261.8 L1738.0 1083.0 L1745.1 1190.7 L1751.8 1196.0 L1759.5 1196.9 L1767.1 1195.8 L1773.1 1189.5 L1780.4 1083.0 L1787.5 1191.8 L1794.7 1083.0 L1800.0 1188.7 L1804.4 1284.4 L1812.2 1191.8 L1817.3 1192.3 L1824.1 1083.0 L1831.3 1195.8 L1837.7 1192.8 L1845.0 1257.1 L1850.1 1187.1 L1856.8 1187.2 L1863.2 1195.5 L1869.5 1083.0 L1877.1 1188.3 L1881.6 1083.0 L1887.5 1134.8 L1892.1 1190.2 L1898.1 1083.0 L1903.0 1194.1 L1909.1 1083.0 L1916.5 1194.9 L1920.7 1187.6 L1927.7 1083.0 L1932.8 1190.1 L1937.1 1190.1 L1944.6 1254.7 L1950.7 1188.0 L1957.1 1194.3 L1964.8 1269.5 L1970.9 1187.6 L1978.0 1190.6 L1983.4 1188.1 L1987.8 1083.0 L1994.8 1387.0 L1999.0 1191.4 L2005.1 1191.0 L2010.1 1083.0 L2015.2 1195.2 L2022.0 1189.4 L2027.6 1193.3 L2035.3 1083.0 L2041.2 1195.9 L2046.0 1125.0" stroke="#25a862"/>
<path d="M723.8 182.6 L724.0 470.0 L733.0 530.0 L741.0 534.0 L752.7 551.6 L760.4 543.9 L772.0 555.4 L779.7 569.0 L787.4 561.2 L794.1 552.5 L800.9 543.9 L808.6 580.5 L818.2 582.4 L829.7 596.0 L833.6 597.8 L841.3 605.7 L849.0 611.3 L856.7 605.5 L866.4 528.5 L870.2 630.0 L870.6 700.0 L872.0 859.0 L881.0 868.6 L888.0 866.0 L899.0 910.0 L905.5 905.3 L912.0 899.0 L924.0 868.6 L933.0 901.7 L940.7 908.0 L952.2 905.1 L959.5 913.7 L966.7 919.5 L978.2 948.4 L985.5 965.7 L992.7 977.3 L1004.2 957.1 L1011.5 973.3 L1018.7 986.0 L1025.9 993.0 L1033.1 1004.8 L1039.6 989.1 L1046.1 977.3 L1057.7 1017.8 L1064.2 1017.5 L1070.7 1017.8 L1079.3 1034.3 L1088.0 1052.4 L1090.9 1023.5 L1099.6 1032.5 L1108.2 1035.1 L1119.8 1118.9 L1125.5 1066.9 L1132.8 1077.2 L1140.0 1084.2 L1150.1 1101.5 L1160.2 1084.2 L1167.5 1094.1 L1174.7 1104.4 L1181.0 1109.8 L1187.3 1115.3 L1193.7 1124.3 L1200.0 1130.0 L1206.0 1135.0 L1212.0 1131.7 L1218.0 1135.7 L1224.0 1136.9 L1230.0 1140.0 L1237.5 1167.9 L1244.5 1173.2 L1250.8 1174.8 L1257.9 1180.1 L1265.1 1172.2 L1271.0 1168.9 L1278.8 1168.5 L1284.6 1169.7 L1291.6 1179.1 L1299.0 1179.2 L1304.6 1168.4 L1312.5 1173.1 L1320.1 1173.9 L1326.1 1172.9 L1331.9 1182.1 L1339.2 1174.6 L1346.0 1175.5 L1351.7 1182.8 L1358.9 1184.1 L1365.7 1179.6 L1372.0 1171.9 L1380.3 1183.6 L1386.7 1184.5 L1394.7 1176.5 L1402.0 1186.0 L1409.0 1186.2 L1415.2 1178.6 L1422.9 1176.6 L1429.3 1186.1 L1436.2 1185.2 L1440.0 1176.7 L1445.0 992.0 L1450.0 1150.0 L1456.6 1179.7 L1465.0 1181.5 L1472.2 1179.4 L1479.3 1183.5 L1486.0 1179.3 L1491.9 1190.2 L1498.4 1182.4 L1504.5 1183.2 L1510.7 1180.0 L1518.2 1184.6 L1524.2 1190.0 L1529.9 1184.1 L1537.9 1182.5 L1544.8 1192.7 L1552.7 1183.6 L1559.2 1191.8 L1565.9 1195.4 L1572.0 1195.6 L1579.0 1185.7 L1580.0 1184.4 L1587.5 1195.9 L1592.0 1191.2 L1598.1 1083.0 L1603.9 1083.0 L1608.2 1083.0 L1613.9 1194.3 L1619.4 1083.0 L1625.8 1193.2 L1633.5 1194.6 L1639.0 1193.6 L1644.3 1083.0 L1651.1 1191.5 L1657.6 1083.0 L1663.0 1189.0 L1667.6 1083.0 L1672.8 1195.2 L1678.2 1189.9 L1683.5 1192.5 L1688.6 1083.0 L1695.3 1189.4 L1701.5 1192.9 L1709.1 1087.4 L1714.8 1083.0 L1721.5 1195.0 L1729.1 1196.9 L1736.0 1196.7 L1741.5 1083.0 L1747.4 1158.1 L1752.4 1083.0 L1757.2 1195.1 L1762.3 1196.0 L1768.1 1195.9 L1775.3 1193.9 L1780.9 1195.3 L1787.4 1083.0 L1793.1 1192.6 L1799.3 1188.1 L1805.8 1259.0 L1813.0 1089.2 L1819.2 1189.4 L1825.4 1191.5 L1832.2 1083.0 L1839.2 1099.1 L1845.9 1083.0 L1851.6 1083.0 L1857.5 1192.4 L1863.7 1190.0 L1871.2 1151.2 L1877.2 1193.7 L1883.5 1241.0 L1889.0 1289.0 L1894.4 1191.2 L1901.6 1192.5 L1906.7 1223.7 L1911.7 1280.9 L1917.7 1083.0 L1922.3 1191.4 L1929.6 1102.6 L1937.3 1187.4 L1944.4 1244.2 L1949.2 1187.9 L1956.0 1193.8 L1961.3 1134.7 L1966.1 1196.1 L1971.0 1083.0 L1975.7 1191.7 L1982.4 1194.7 L1989.6 1192.9 L1994.9 1083.0 L2002.2 1083.0 L2007.6 1192.3 L2014.9 1190.6 L2021.4 1196.3 L2026.7 1196.8 L2034.5 1083.0 L2041.5 1187.4 L2046.0 1190.0" stroke="#25a862"/>
<path d="M390.0 182.6 L477.0 182.6 L478.5 360.8 L490.0 359.3 L497.9 367.0 L504.0 357.7 L514.8 367.0 L524.0 364.0 L530.2 363.3 L536.4 362.4 L542.6 361.0 L548.8 365.1 L555.0 363.0 L562.6 364.2 L570.3 364.0 L576.8 363.6 L583.4 364.6 L590.0 359.6 L596.5 360.8 L605.7 359.3 L616.5 365.4 L624.2 366.9 L632.0 365.4 L639.6 364.0 L647.3 365.4 L655.0 364.2 L662.8 365.4 L670.5 370.0 L672.0 530.0 L674.3 816.5 L686.0 980.0 L692.0 991.0 L695.0 1060.0 L698.0 1028.0 L703.5 1025.0 L712.0 1089.0 L718.0 1089.7 L724.0 1094.7 L730.0 1095.0 L737.3 1099.4 L744.7 1099.1 L752.0 1099.0 L759.2 1102.7 L766.5 1109.0 L772.5 1110.4 L778.6 1117.0 L785.7 1112.5 L792.8 1111.0 L803.0 1113.0 L809.7 1113.7 L816.3 1118.3 L823.0 1121.0 L835.0 1119.0 L843.2 1116.1 L851.4 1113.0 L859.5 1119.5 L867.6 1131.4 L875.7 1127.4 L883.8 1127.4 L890.5 1131.4 L897.3 1131.5 L904.0 1131.4 L912.0 1115.4 L920.0 1105.0 L926.1 1112.6 L932.3 1115.0 L938.4 1149.6 L945.5 1122.9 L952.5 1097.0 L960.0 1141.6 L967.5 1135.0 L975.0 1130.0 L987.6 1057.0 L993.0 1135.0 L999.0 1139.3 L1005.0 1140.7 L1011.0 1141.5 L1017.5 1141.6 L1024.0 1141.9 L1030.5 1143.6 L1037.0 1146.2 L1043.5 1145.9 L1050.0 1145.0 L1056.0 1143.1 L1062.0 1143.7 L1068.0 1147.0 L1074.0 1147.5 L1080.0 1150.0 L1095.5 1084.0 L1102.0 1168.5 L1109.0 1168.3 L1116.0 1165.0 L1123.0 1159.6 L1130.0 1160.0 L1137.7 1182.7 L1145.2 1178.6 L1153.2 1179.1 L1161.5 1191.7 L1169.8 1185.5 L1176.2 1183.3 L1183.9 1185.7 L1192.2 1180.5 L1199.2 1191.6 L1206.5 1187.4 L1212.2 1182.0 L1218.5 1192.8 L1226.6 1183.9 L1234.8 1181.5 L1240.0 1194.8 L1243.8 1128.0 L1250.5 1168.5 L1256.5 1198.2 L1264.0 1184.2 L1270.5 1190.9 L1276.7 1195.8 L1282.8 1196.8 L1289.2 1185.6 L1296.4 1186.4 L1303.5 1197.8 L1310.8 1192.9 L1316.4 1194.0 L1322.2 1196.3 L1328.1 1195.5 L1334.6 1192.6 L1342.1 1189.5 L1348.1 1202.2 L1354.6 1200.9 L1362.8 1195.5 L1368.7 1189.6 L1376.8 1190.3 L1383.8 1197.3 L1389.7 1196.5 L1395.7 1197.9 L1402.7 1195.5 L1408.8 1196.4 L1414.9 1192.2 L1421.1 1204.4 L1428.1 1205.0 L1433.7 1206.1 L1440.6 1204.0 L1447.8 1202.7 L1454.0 1203.9 L1460.0 1196.4 L1465.6 1198.7 L1472.6 1197.4 L1480.8 1194.5 L1488.0 1197.2 L1495.3 1206.3 L1503.0 1195.1 L1509.2 1204.0 L1517.7 1195.5 L1525.0 1206.2 L1532.9 1201.0 L1540.9 1203.2 L1549.1 1196.4 L1557.5 1203.2 L1564.2 1198.3 L1570.4 1208.9 L1578.0 1199.9 L1580.0 1199.8 L1583.3 1084.7 L1585.6 1222.4 L1588.3 1085.4 L1591.8 1268.5 L1595.9 1089.0 L1598.6 1220.6 L1602.5 1086.6 L1606.5 1276.2 L1609.8 1083.4 L1612.0 1276.9 L1615.7 1086.4 L1619.3 1246.3 L1621.7 1086.0 L1624.6 1285.1 L1627.3 1275.0 L1630.0 1241.9 L1633.0 1087.5 L1637.4 1210.9 L1642.9 1217.6 L1649.2 1209.7 L1655.5 1213.7 L1660.5 1211.5 L1664.7 1215.7 L1670.3 1214.1 L1675.1 1234.7 L1679.7 1216.4 L1685.0 1265.0 L1690.4 1263.9 L1695.8 1212.7 L1700.9 1218.6 L1706.0 1258.5 L1709.8 1225.6 L1715.0 1243.6 L1720.9 1209.4 L1725.7 1083.0 L1730.7 1286.0 L1736.6 1267.4 L1741.3 1269.8 L1747.3 1252.9 L1752.3 1245.3 L1758.7 1261.9 L1764.5 1215.1 L1770.7 1247.9 L1775.5 1248.5 L1781.3 1210.8 L1785.5 1210.1 L1789.6 1210.1 L1793.5 1249.9 L1797.0 1214.7 L1802.8 1216.2 L1807.9 1253.9 L1811.8 1259.0 L1817.1 1246.2 L1822.4 1256.5 L1826.3 1244.8 L1830.7 1213.1 L1835.1 1217.3 L1840.9 1237.6 L1844.7 1213.6 L1848.5 1209.8 L1852.1 1213.5 L1858.2 1210.4 L1863.1 1209.2 L1868.9 1249.7 L1873.4 1213.8 L1878.2 1260.4 L1882.3 1209.1 L1886.1 1211.8 L1891.4 1212.5 L1896.5 1226.2 L1902.5 1217.7 L1907.9 1210.1 L1913.3 1237.8 L1917.1 1227.5 L1922.6 1230.4 L1927.8 1425.0 L1931.5 1215.1 L1936.5 1247.4 L1941.0 1233.0 L1946.6 1431.0 L1951.2 1236.7 L1954.8 1210.4 L1959.8 1216.0 L1965.2 1215.1 L1971.1 1211.3 L1974.9 1210.1 L1980.0 1217.4 L1985.7 1083.0 L1990.8 1235.1 L1995.0 1217.1 L2000.9 1217.8 L2005.0 1212.5 L2010.6 1211.3 L2016.9 1215.9 L2021.5 1211.0 L2026.0 1217.7 L2031.2 1209.7 L2036.1 1238.7 L2040.8 1212.2 L2046.0 1150.0" stroke="#ff6400"/>
<path d="M390.0 182.6 L700.6 182.6 L702.7 600.0 L707.7 712.0 L708.6 716.0 L715.7 712.5 L722.8 714.8 L734.6 724.3 L741.7 727.8 L748.8 730.2 L756.0 730.2 L763.0 723.0 L769.0 729.0 L775.5 727.8 L782.0 728.0 L787.8 735.0 L793.8 725.5 L800.8 726.7 L805.6 762.0 L815.0 772.8 L827.0 763.3 L836.3 762.0 L840.0 793.0 L845.8 749.0 L848.0 793.0 L855.0 864.0 L861.0 980.0 L865.3 1117.8 L871.0 1123.5 L877.3 1128.6 L883.7 1128.6 L890.0 1130.0 L896.6 1124.8 L903.2 1122.3 L909.8 1112.3 L916.4 1110.8 L923.0 1103.0 L935.0 1130.0 L941.2 1132.0 L947.5 1136.2 L953.8 1140.8 L960.0 1140.0 L966.1 1160.4 L972.6 1175.8 L981.1 1172.5 L988.0 1166.9 L995.9 1175.5 L1003.6 1170.4 L1009.7 1170.4 L1017.7 1174.0 L1023.5 1172.9 L1030.1 1162.1 L1038.5 1172.7 L1046.2 1162.3 L1054.2 1178.7 L1062.4 1175.2 L1070.4 1176.7 L1077.7 1169.7 L1085.6 1177.0 L1093.8 1167.7 L1102.1 1172.7 L1110.5 1164.8 L1118.9 1178.6 L1125.1 1179.9 L1131.3 1167.4 L1138.2 1168.5 L1145.2 1182.2 L1152.7 1178.6 L1159.4 1180.4 L1167.3 1178.7 L1175.6 1181.9 L1182.3 1167.4 L1189.8 1182.8 L1196.3 1178.2 L1204.3 1182.6 L1209.8 1176.7 L1215.4 1169.4 L1223.3 1175.9 L1230.6 1177.0 L1237.2 1172.4 L1243.7 1185.4 L1251.1 1174.6 L1256.8 1174.5 L1264.4 1178.2 L1271.9 1185.9 L1277.8 1183.7 L1283.4 1186.7 L1289.5 1176.0 L1297.8 1178.1 L1304.0 1189.0 L1311.3 1189.4 L1318.0 1181.8 L1326.4 1182.3 L1334.9 1176.4 L1342.8 1176.2 L1349.9 1173.3 L1356.0 1192.4 L1362.8 1190.0 L1369.1 1181.2 L1374.9 1185.4 L1383.0 1185.0 L1389.6 1193.6 L1397.8 1188.7 L1403.5 1188.1 L1410.3 1195.1 L1416.9 1189.5 L1424.3 1184.1 L1431.4 1190.4 L1439.6 1187.2 L1446.2 1197.1 L1451.9 1194.5 L1459.4 1189.3 L1466.3 1193.5 L1474.4 1193.4 L1482.2 1179.9 L1488.7 1182.2 L1497.0 1197.7 L1502.9 1191.9 L1510.2 1181.4 L1516.9 1195.7 L1524.3 1186.7 L1532.1 1187.3 L1539.2 1190.2 L1547.6 1195.1 L1555.5 1196.0 L1562.2 1202.1 L1569.8 1197.0 L1576.1 1186.7 L1580.0 1200.1 L1583.5 1245.6 L1589.1 1231.6 L1593.3 1212.5 L1599.0 1212.4 L1604.1 1246.6 L1610.6 1227.0 L1616.9 1235.9 L1621.4 1273.8 L1625.5 1255.2 L1630.7 1219.4 L1635.3 1267.8 L1641.7 1083.0 L1647.8 1213.2 L1653.7 1212.9 L1659.1 1228.1 L1663.6 1245.8 L1669.1 1220.6 L1675.5 1218.9 L1679.9 1257.2 L1685.1 1211.9 L1689.1 1217.0 L1694.7 1246.0 L1701.0 1220.9 L1705.1 1219.0 L1709.9 1216.6 L1713.7 1275.1 L1717.6 1242.8 L1723.2 1215.8 L1728.2 1213.8 L1732.9 1217.4 L1736.5 1232.9 L1742.1 1220.7 L1747.9 1264.3 L1754.4 1226.6 L1759.0 1234.8 L1762.7 1269.3 L1766.3 1213.1 L1770.4 1214.0 L1774.4 1217.9 L1777.7 1266.1 L1780.9 1087.3 L1784.1 1231.3 L1786.6 1083.7 L1790.3 1248.0 L1793.9 1086.5 L1796.4 1254.8 L1799.5 1481.0 L1802.5 1229.9 L1806.1 1086.2 L1808.8 1240.7 L1812.6 1083.2 L1816.0 1260.4 L1818.6 1087.9 L1821.6 1243.6 L1824.6 1084.2 L1827.2 1239.4 L1830.2 1087.6 L1832.5 1236.9 L1835.7 1086.0 L1839.7 1221.4 L1842.0 1085.9 L1846.4 1211.1 L1849.9 1263.9 L1854.3 1216.8 L1859.0 1213.3 L1864.3 1216.4 L1868.8 1254.7 L1872.9 1253.1 L1879.2 1216.2 L1885.3 1245.4 L1890.8 1330.0 L1895.5 1213.4 L1901.1 1273.7 L1906.7 1275.2 L1912.6 1343.0 L1917.6 1212.4 L1921.2 1228.2 L1925.9 1215.4 L1929.9 1083.0 L1934.7 1215.8 L1940.2 1219.3 L1945.9 1234.4 L1949.7 1211.6 L1954.9 1214.2 L1959.6 1273.2 L1965.1 1211.4 L1970.8 1246.1 L1976.8 1220.1 L1982.5 1215.3 L1987.6 1215.5 L1991.5 1219.7 L1997.7 1245.1 L2001.8 1274.0 L2006.6 1239.6 L2011.4 1214.4 L2015.5 1239.0 L2021.7 1263.7 L2025.5 1213.7 L2031.4 1229.9 L2035.2 1216.4 L2040.1 1260.6 L2045.1 1256.0 L2046.0 1300.0" stroke="#ff6400"/>
<path d="M700.6 182.6H812.4" stroke="#8c8c00"/>
<path d="M812.4 182.6H826.0" stroke="#ff3a3a"/>
<path d="M826.0 182.6H852.9" stroke="#4d4d4d"/>
<path d="M390.0 182.6H700.6" stroke="#ff6400"/>
<path d="M272.0 182.6H391.0" stroke="#00cdcd"/>
<path d="M481 185.0L482.5 345 L485.6 490.2" stroke="#ff3a3a"/>
<path d="M508.5 185.0L510 438" stroke="#5fbb00"/>
</g>
<path d="M373.5 345.5H1097.5V451H377.5V461H1097.5V587H373.5Z" fill="#008000" fill-opacity="0.37"/>
<rect x="377.5" y="451" width="783" height="10" fill="#6473e1" fill-opacity="0.6"/>
<ellipse cx="633" cy="240" rx="294" ry="22.5" fill="none" stroke="#000" stroke-width="3.7"/>
<ellipse cx="720.7" cy="680" rx="293.7" ry="22.8" fill="none" stroke="#000" stroke-width="3.7"/>
<path d="M940 321V191" stroke="#000" stroke-width="3.4" fill="none"/><path d="M940 161 L951 206 L940 195 L929 206Z" fill="#000"/>
<path d="M1027 763V629" stroke="#000" stroke-width="3.4" fill="none"/><path d="M1027 599 L1038 644 L1027 633 L1016 644Z" fill="#000"/>
<path d="M272.0 52.5H2049.2V1511 M272.0 1483.6H2049.2 M272.0 52.5V1483.6" fill="none" stroke="#000" stroke-width="6.4" stroke-linecap="square"/>
<path d="M244 52.5H272.0 M258 143.4H272.0 M258 120.5H272.0 M258 104.3H272.0 M258 91.7H272.0 M258 81.4H272.0 M258 72.7H272.0 M258 65.1H272.0 M258 58.5H272.0 M244 182.6H272.0 M258 273.5H272.0 M258 250.6H272.0 M258 234.4H272.0 M258 221.8H272.0 M258 211.5H272.0 M258 202.8H272.0 M258 195.2H272.0 M258 188.6H272.0 M244 312.7H272.0 M258 403.6H272.0 M258 380.7H272.0 M258 364.5H272.0 M258 351.9H272.0 M258 341.6H272.0 M258 332.9H272.0 M258 325.3H272.0 M258 318.7H272.0 M244 442.8H272.0 M258 533.7H272.0 M258 510.8H272.0 M258 494.6H272.0 M258 482.0H272.0 M258 471.7H272.0 M258 463.0H272.0 M258 455.4H272.0 M258 448.8H272.0 M244 572.9H272.0 M258 663.8H272.0 M258 640.9H272.0 M258 624.7H272.0 M258 612.1H272.0 M258 601.8H272.0 M258 593.1H272.0 M258 585.5H272.0 M258 578.9H272.0 M244 703.0H272.0 M258 793.9H272.0 M258 771.0H272.0 M258 754.8H272.0 M258 742.2H272.0 M258 731.9H272.0 M258 723.2H272.0 M258 715.6H272.0 M258 709.0H272.0 M244 833.1H272.0 M258 924.0H272.0 M258 901.1H272.0 M258 884.9H272.0 M258 872.3H272.0 M258 862.0H272.0 M258 853.3H272.0 M258 845.7H272.0 M258 839.1H272.0 M244 963.2H272.0 M258 1054.1H272.0 M258 1031.2H272.0 M258 1015.0H272.0 M258 1002.4H272.0 M258 992.1H272.0 M258 983.4H272.0 M258 975.8H272.0 M258 969.2H272.0 M244 1093.3H272.0 M258 1184.2H272.0 M258 1161.3H272.0 M258 1145.1H272.0 M258 1132.5H272.0 M258 1122.2H272.0 M258 1113.5H272.0 M258 1105.9H272.0 M258 1099.3H272.0 M244 1223.4H272.0 M258 1314.3H272.0 M258 1291.4H272.0 M258 1275.2H272.0 M258 1262.6H272.0 M258 1252.3H272.0 M258 1243.6H272.0 M258 1236.0H272.0 M258 1229.4H272.0 M244 1353.5H272.0 M258 1444.4H272.0 M258 1421.5H272.0 M258 1405.3H272.0 M258 1392.7H272.0 M258 1382.4H272.0 M258 1373.7H272.0 M258 1366.1H272.0 M258 1359.5H272.0 M244 1483.6H272.0 M272.0 1483.6V1511 M383.1 1483.6V1498 M494.1 1483.6V1511 M605.2 1483.6V1498 M716.3 1483.6V1511 M827.4 1483.6V1498 M938.4 1483.6V1511 M1049.5 1483.6V1498 M1160.6 1483.6V1511 M1271.7 1483.6V1498 M1382.8 1483.6V1511 M1493.8 1483.6V1498 M1604.9 1483.6V1511 M1716.0 1483.6V1498 M1827.0 1483.6V1511 M1938.1 1483.6V1498 M2049.2 1483.6V1511" fill="none" stroke="#000" stroke-width="5.2"/>
<path d="M303.6 1339.5H431.5" stroke="#4d4d4d" stroke-width="5.8"/>
<path d="M660 1339.5H787.8" stroke="#ff3a3a" stroke-width="5.8"/>
<path d="M1016.3 1339.5H1144.2" stroke="#1463e6" stroke-width="5.8"/>
<path d="M303.6 1408.8H431.5" stroke="#7a4646" stroke-width="5.8"/>
<rect x="1484.0" y="86.0" width="538.8" height="434.5" fill="#fff" stroke="#222" stroke-width="3.6"/>
<path d="M1476.0 520.5H1484.0 M1479.5 484.3H1484.0 M1476.0 448.1H1484.0 M1479.5 411.9H1484.0 M1476.0 375.7H1484.0 M1479.5 339.5H1484.0 M1476.0 303.2H1484.0 M1479.5 267.0H1484.0 M1476.0 230.8H1484.0 M1479.5 194.6H1484.0 M1476.0 158.4H1484.0 M1479.5 122.2H1484.0 M1476.0 86.0H1484.0 M1584 520.5V529.5 M1921 520.5V529.5 M1752.5 520.5V525.5" stroke="#222" stroke-width="3.4" fill="none"/>
<path d="M1584 335.1L1921 247.5" stroke="#333" stroke-width="2.6" fill="none"/>
<path d="M1584 251.1V417.7 M1578 251.1H1590 M1578 417.7H1590" stroke="#222" stroke-width="3.4" fill="none"/>
<path d="M1921 155.5V340.2 M1915 155.5H1927 M1915 340.2H1927" stroke="#222" stroke-width="3.4" fill="none"/>
<circle cx="1584" cy="335.1" r="9.3" fill="#000"/>
<circle cx="1921" cy="247.5" r="9.3" fill="#000"/>
<text transform="translate(98.92 70.50) scale(0.9958 0.9974)" font-size="60.5">100µ</text>
<text transform="translate(128.76 200.00) scale(1.0090 0.9974)" font-size="60.5">10µ</text>
<text transform="translate(158.84 330.70) scale(1.0119 0.9974)" font-size="60.5">1µ</text>
<text transform="translate(98.54 459.50) scale(1.0127 0.9974)" font-size="60.5">100n</text>
<text transform="translate(129.78 590.20) scale(1.0034 0.9974)" font-size="60.5">10n</text>
<text transform="translate(159.99 719.90) scale(1.0017 0.9974)" font-size="60.5">1n</text>
<text transform="translate(99.76 850.00) scale(1.0077 0.9974)" font-size="60.5">100p</text>
<text transform="translate(129.96 980.50) scale(1.0080 0.9974)" font-size="60.5">10p</text>
<text transform="translate(160.17 1110.00) scale(1.0250 0.9974)" font-size="60.5">1p</text>
<text transform="translate(112.33 1242.99) scale(1.0547 0.9974)" font-size="60.5">100f</text>
<text transform="translate(141.90 1373.49) scale(1.0803 0.9974)" font-size="60.5">10f</text>
<text transform="translate(173.08 1502.99) scale(1.1043 0.9974)" font-size="60.5">1f</text>
<text transform="translate(246.57 1573.20) scale(1.0174 1.0275)" font-size="60.5">-8</text>
<text transform="translate(466.83 1573.20) scale(1.0362 1.0275)" font-size="60.5">-7</text>
<text transform="translate(690.69 1573.20) scale(1.0064 1.0275)" font-size="60.5">-6</text>
<text transform="translate(913.04 1573.20) scale(1.0283 1.0275)" font-size="60.5">-5</text>
<text transform="translate(1135.03 1573.20) scale(0.9872 1.0275)" font-size="60.5">-4</text>
<text transform="translate(1356.68 1573.20) scale(1.0109 1.0275)" font-size="60.5">-3</text>
<text transform="translate(1579.48 1573.20) scale(1.0087 1.0275)" font-size="60.5">-2</text>
<text transform="translate(1801.03 1573.20) scale(0.9867 1.0275)" font-size="60.5">-1</text>
<text transform="translate(2033.76 1573.20) scale(1.0692 1.0275)" font-size="60.5">0</text>
<text transform="translate(978.60 1652.92) scale(0.9994 0.9551)" font-size="76">Voltage (V)</text>
<text transform="translate(67.29 941.70) rotate(-90) scale(1.0011 0.9742)" font-size="75">Current (A)</text>
<text transform="translate(910.38 415.52) scale(1.0057 1.0318)" font-size="74">IRS (ON)</text>
<text transform="translate(948.42 262.60) scale(0.9942 1.0472)" font-size="55">SET 2</text>
<text transform="translate(1035.85 701.20) scale(0.9848 1.0278)" font-size="55">SET 1</text>
<text transform="translate(443.08 1357.80) scale(1.0195 1.0000)" font-size="53">Device 1,</text>
<text transform="translate(799.98 1358.58) scale(1.0165 1.0022)" font-size="53">Device 2,</text>
<text transform="translate(1155.29 1356.65) scale(1.0126 0.9500)" font-size="53">Device 3 ...</text>
<text transform="translate(443.08 1425.54) scale(1.0160 0.9553)" font-size="53">Device 20</text>
<text transform="translate(1425.80 531.40) scale(0.9833 0.9500)" font-size="35">4.5</text>
<text transform="translate(1424.79 458.95) scale(1.0073 0.9500)" font-size="35">5.0</text>
<text transform="translate(1424.79 386.50) scale(1.0073 0.9500)" font-size="35">5.5</text>
<text transform="translate(1424.79 314.05) scale(1.0073 0.9500)" font-size="35">6.0</text>
<text transform="translate(1424.79 241.60) scale(1.0073 0.9500)" font-size="35">6.5</text>
<text transform="translate(1423.73 169.15) scale(1.0325 0.9500)" font-size="35">7.0</text>
<text transform="translate(1423.73 96.70) scale(1.0325 0.9500)" font-size="35">7.5</text>
<text transform="translate(1555.09 565.00) scale(1.0140 1.0750)" font-size="36">IRS</text>
<text transform="translate(1886.06 565.00) scale(1.0185 1.0750)" font-size="36">SET</text>
<text transform="translate(1409.72 397.60) rotate(-90) scale(1.0363 0.9971)" font-size="38">Voltage (V)</text>
</g>
</svg></body></html>
